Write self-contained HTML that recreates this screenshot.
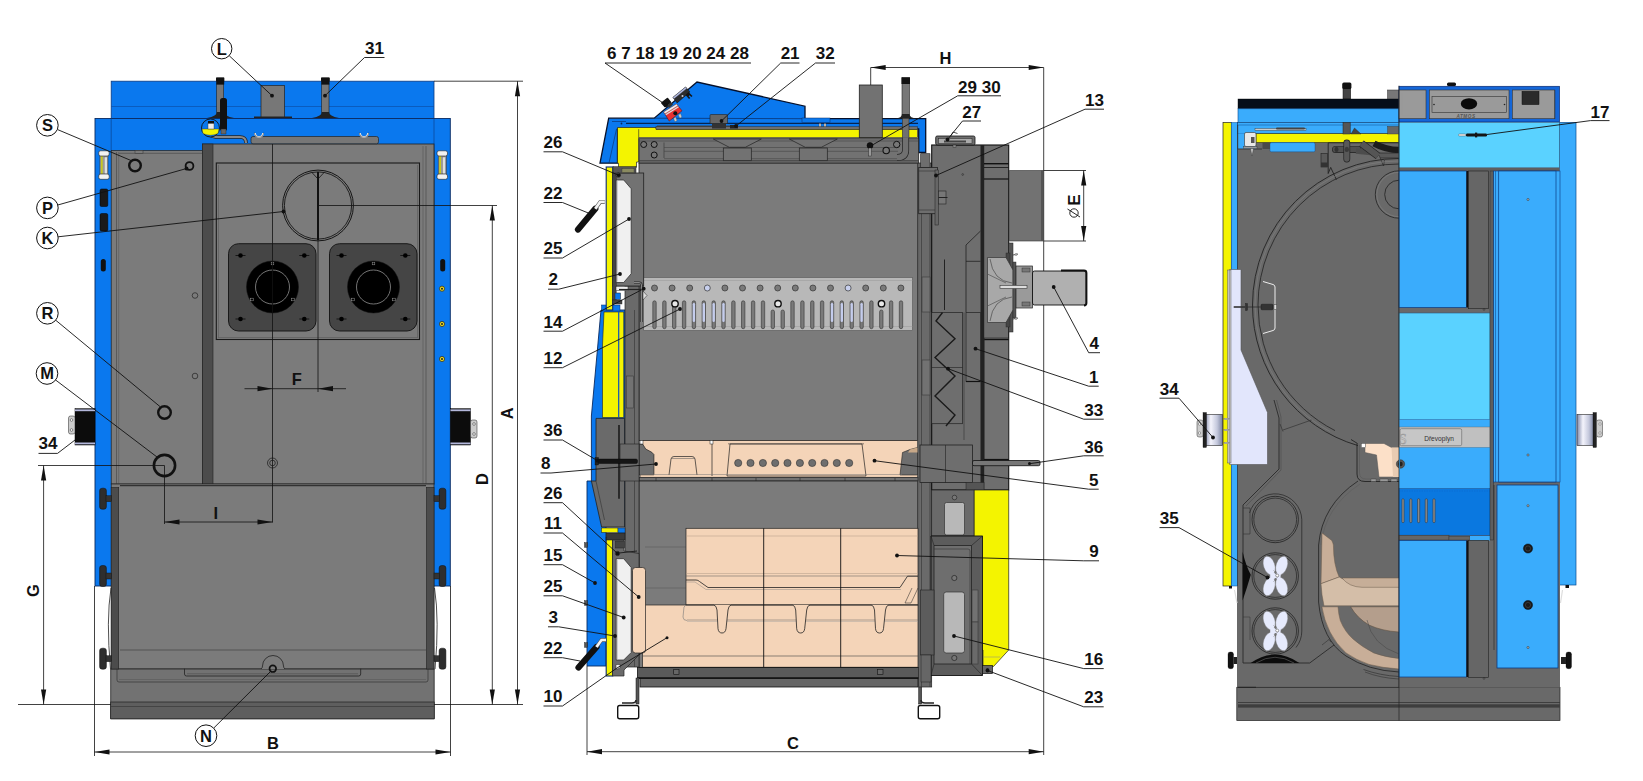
<!DOCTYPE html>
<html><head><meta charset="utf-8"><title>Boiler drawing</title>
<style>html,body{margin:0;padding:0;background:#fff;overflow:hidden}svg{display:block}</style>
</head><body>
<svg width="1643" height="781" viewBox="0 0 1643 781">
<rect x="0" y="0" width="1643" height="781" fill="#ffffff"/>
<g id="left-view">
<rect x="216.7" y="78" width="7.0" height="40" fill="#777" stroke="#111" stroke-width="0.6" rx="0" />
<rect x="216.2" y="78" width="8.0" height="6.5" fill="#111" stroke="none" stroke-width="0" rx="0" />
<rect x="321.7" y="78" width="7.3" height="40" fill="#777" stroke="#111" stroke-width="0.6" rx="0" />
<rect x="321.2" y="78" width="8.3" height="6.5" fill="#111" stroke="none" stroke-width="0" rx="0" />
<rect x="111.2" y="81.2" width="322.8" height="37.3" fill="#0a78ee" stroke="#0a3a80" stroke-width="0.8" rx="0" />
<line x1="111.2" y1="106.5" x2="434" y2="106.5" stroke="#0a4aa0" stroke-width="0.6" />
<rect x="216.7" y="84" width="7.0" height="34" fill="#777" stroke="#222" stroke-width="0.6" rx="0" />
<rect x="216.2" y="77.5" width="8.0" height="7.0" fill="#111" stroke="none" stroke-width="0" rx="0" />
<rect x="321.7" y="84" width="7.3" height="34" fill="#777" stroke="#222" stroke-width="0.6" rx="0" />
<rect x="321.2" y="77.5" width="8.3" height="7.0" fill="#111" stroke="none" stroke-width="0" rx="0" />
<path d="M312,118 Q322,116 322,112 L329,112 Q329,116 339,118 Z" fill="#222" stroke="none" stroke-width="0" />
<path d="M207,118 Q217,116 217,112 L224,112 Q224,116 234,118 Z" fill="#222" stroke="none" stroke-width="0" />
<rect x="261" y="85.5" width="23.5" height="32.5" fill="#777" stroke="#222" stroke-width="0.7" rx="0" />
<rect x="254" y="116.5" width="38" height="2.0" fill="#222" stroke="none" stroke-width="0" rx="0" />
<rect x="95" y="118.5" width="355.3" height="467.5" fill="#0a78ee" stroke="#0a2a60" stroke-width="0.9" rx="0" />
<line x1="111.2" y1="118.5" x2="111.2" y2="150" stroke="#0a3a80" stroke-width="0.6" />
<line x1="434" y1="118.5" x2="434" y2="150" stroke="#0a3a80" stroke-width="0.6" />
<rect x="111.2" y="150.5" width="322.8" height="333.5" fill="#7b7b7b" stroke="#222" stroke-width="0.7" rx="0" />
<line x1="118.7" y1="153.3" x2="202" y2="153.3" stroke="#444" stroke-width="0.6" />
<rect x="135" y="150.5" width="8" height="2.8" fill="#7b7b7b" stroke="#333" stroke-width="0.5" rx="0" />
<line x1="116.5" y1="152" x2="116.5" y2="484" stroke="#444" stroke-width="0.6" />
<line x1="118.7" y1="152" x2="118.7" y2="484" stroke="#555" stroke-width="0.5" />
<rect x="202.5" y="144" width="231.5" height="340" fill="#7b7b7b" stroke="#222" stroke-width="0.8" rx="0" />
<rect x="202.5" y="144" width="10.5" height="340" fill="#4c4c4c" stroke="#222" stroke-width="0.6" rx="0" />
<line x1="423" y1="146" x2="423" y2="484" stroke="#555" stroke-width="0.6" />
<line x1="426" y1="146" x2="426" y2="484" stroke="#444" stroke-width="0.6" />
<rect x="216.3" y="163" width="203.2" height="176.5" fill="none" stroke="#1a1a1a" stroke-width="1.1" rx="0" />
<line x1="218.5" y1="165" x2="218.5" y2="337.5" stroke="#555" stroke-width="0.5" />
<line x1="417.5" y1="165" x2="417.5" y2="337.5" stroke="#555" stroke-width="0.5" />
<line x1="218" y1="337.5" x2="418" y2="337.5" stroke="#555" stroke-width="0.5" />
<rect x="251" y="136.5" width="127.5" height="7.3" fill="#777" stroke="#222" stroke-width="0.7" rx="2" />
<path d="M255,133 a4,4 0 0 0 8,0" fill="none" stroke="#e8e8e8" stroke-width="1.8" />
<path d="M254.4,132.6 a4.6,4.6 0 0 0 9.2,0" fill="none" stroke="#333" stroke-width="0.5" />
<path d="M360,133 a4,4 0 0 0 8,0" fill="none" stroke="#e8e8e8" stroke-width="1.8" />
<path d="M359.4,132.6 a4.6,4.6 0 0 0 9.2,0" fill="none" stroke="#333" stroke-width="0.5" />
<path d="M209,134 Q213,137 218,137 L240,137 Q246,137 246,143" fill="none" stroke="#222" stroke-width="3.6" />
<path d="M209,134 Q213,137 218,137 L240,137 Q246,137 246,143" fill="none" stroke="#888" stroke-width="2.2" />
<circle cx="210.5" cy="128" r="9" fill="#0a78ee" stroke="#111" stroke-width="0.9"/>
<path d="M202,129 L219,129 L218,133.5 Q210.5,137 203,133.5 Z" fill="#f4f400" stroke="#333" stroke-width="0.4" />
<rect x="208" y="123" width="6" height="6" fill="#eee" stroke="#333" stroke-width="0.4" rx="0" />
<rect x="208" y="121" width="6" height="2.5" fill="#111" stroke="none" stroke-width="0" rx="0" />
<rect x="220" y="98" width="7" height="33" fill="#111" stroke="none" stroke-width="0" rx="2.5" />
<rect x="221" y="129" width="5" height="5" fill="#666" stroke="#222" stroke-width="0.4" rx="0" />
<circle cx="318" cy="205.5" r="35.4" fill="none" stroke="#151515" stroke-width="1.0"/>
<circle cx="318" cy="205.5" r="33.6" fill="none" stroke="#151515" stroke-width="0.9"/>
<line x1="318" y1="172" x2="318" y2="240" stroke="#111" stroke-width="2" />
<path d="M311,171.5 L318,179 L325,171.5" fill="none" stroke="#111" stroke-width="0.8" />
<rect x="228.5" y="243.7" width="87.5" height="87.3" fill="#454545" stroke="#111" stroke-width="0.9" rx="10" />
<circle cx="272.5" cy="287" r="26" fill="#000" stroke="#111" stroke-width="0.5"/>
<circle cx="272.5" cy="287" r="17" fill="none" stroke="#808080" stroke-width="0.9"/>
<line x1="235.5" y1="255.5" x2="245.5" y2="255.5" stroke="#111" stroke-width="0.9" />
<circle cx="240.5" cy="255.5" r="2.3" fill="#000" stroke="none" stroke-width="0"/>
<line x1="299.3" y1="255.5" x2="309.3" y2="255.5" stroke="#111" stroke-width="0.9" />
<circle cx="304.3" cy="255.5" r="2.3" fill="#000" stroke="none" stroke-width="0"/>
<line x1="235.5" y1="319" x2="245.5" y2="319" stroke="#111" stroke-width="0.9" />
<circle cx="240.5" cy="319" r="2.3" fill="#000" stroke="none" stroke-width="0"/>
<line x1="299.3" y1="319" x2="309.3" y2="319" stroke="#111" stroke-width="0.9" />
<circle cx="304.3" cy="319" r="2.3" fill="#000" stroke="none" stroke-width="0"/>
<rect x="271.2" y="262.2" width="2.6" height="2.6" fill="none" stroke="#999" stroke-width="0.5" rx="0" />
<rect x="250.7" y="298.2" width="2.6" height="2.6" fill="none" stroke="#999" stroke-width="0.5" rx="0" />
<rect x="291.7" y="298.2" width="2.6" height="2.6" fill="none" stroke="#999" stroke-width="0.5" rx="0" />
<rect x="329.5" y="243.7" width="87.5" height="87.3" fill="#454545" stroke="#111" stroke-width="0.9" rx="10" />
<circle cx="373.5" cy="287" r="26" fill="#000" stroke="#111" stroke-width="0.5"/>
<circle cx="373.5" cy="287" r="17" fill="none" stroke="#808080" stroke-width="0.9"/>
<line x1="336.5" y1="255.5" x2="346.5" y2="255.5" stroke="#111" stroke-width="0.9" />
<circle cx="341.5" cy="255.5" r="2.3" fill="#000" stroke="none" stroke-width="0"/>
<line x1="400.3" y1="255.5" x2="410.3" y2="255.5" stroke="#111" stroke-width="0.9" />
<circle cx="405.3" cy="255.5" r="2.3" fill="#000" stroke="none" stroke-width="0"/>
<line x1="336.5" y1="319" x2="346.5" y2="319" stroke="#111" stroke-width="0.9" />
<circle cx="341.5" cy="319" r="2.3" fill="#000" stroke="none" stroke-width="0"/>
<line x1="400.3" y1="319" x2="410.3" y2="319" stroke="#111" stroke-width="0.9" />
<circle cx="405.3" cy="319" r="2.3" fill="#000" stroke="none" stroke-width="0"/>
<rect x="372.2" y="262.2" width="2.6" height="2.6" fill="none" stroke="#999" stroke-width="0.5" rx="0" />
<rect x="351.7" y="298.2" width="2.6" height="2.6" fill="none" stroke="#999" stroke-width="0.5" rx="0" />
<rect x="392.7" y="298.2" width="2.6" height="2.6" fill="none" stroke="#999" stroke-width="0.5" rx="0" />
<circle cx="135" cy="165.5" r="5.8" fill="none" stroke="#111" stroke-width="2.4"/>
<circle cx="189.5" cy="166" r="3.9" fill="none" stroke="#111" stroke-width="1.8"/>
<circle cx="164.5" cy="412.5" r="6.3" fill="none" stroke="#111" stroke-width="2.4"/>
<circle cx="164.5" cy="465.5" r="10.6" fill="none" stroke="#111" stroke-width="2.6"/>
<circle cx="195" cy="295.5" r="2.8" fill="none" stroke="#222" stroke-width="0.7"/>
<circle cx="195" cy="376" r="2.8" fill="none" stroke="#222" stroke-width="0.7"/>
<circle cx="272.5" cy="463" r="5" fill="none" stroke="#222" stroke-width="0.8"/>
<circle cx="272.5" cy="463" r="2.8" fill="none" stroke="#222" stroke-width="0.8"/>
<rect x="111.2" y="484" width="322.8" height="185" fill="#7b7b7b" stroke="#222" stroke-width="0.7" rx="0" />
<line x1="120" y1="485.7" x2="426" y2="485.7" stroke="#222" stroke-width="1" />
<line x1="120" y1="650" x2="426" y2="650" stroke="#444" stroke-width="0.7" />
<polygon points="110.7,669 434.2,669 434.2,718.8 110.7,718.8" fill="#727272" stroke="#222" stroke-width="0.8" />
<rect x="110.7" y="702" width="323.5" height="16.8" fill="#5e5e5e" stroke="#222" stroke-width="0.7" rx="0" />
<line x1="110.7" y1="706.5" x2="434.2" y2="706.5" stroke="#3a3a3a" stroke-width="0.7" />
<path d="M117,669 L117,680 Q117,682 119,682 L426,682 Q428,682 428,680 L428,669" fill="none" stroke="#333" stroke-width="0.7" />
<line x1="119" y1="679.5" x2="426" y2="679.5" stroke="#555" stroke-width="0.5" />
<path d="M184.5,668.7 L184.5,674 Q184.5,676 186.5,676 L358.7,676 Q360.7,676 360.7,674 L360.7,668.7" fill="none" stroke="#222" stroke-width="0.8" />
<line x1="187" y1="673.8" x2="358" y2="673.8" stroke="#444" stroke-width="0.5" />
<path d="M261,669 Q262.5,668 262.5,666 A10.5,10.5 0 0 1 283.5,666 Q283.5,668 285,669" fill="#7b7b7b" stroke="#222" stroke-width="0.8" />
<circle cx="272.8" cy="668.7" r="3.3" fill="none" stroke="#111" stroke-width="1.7"/>
<rect x="111.2" y="487.5" width="7.5" height="181.5" fill="#4c4c4c" stroke="#222" stroke-width="0.6" rx="0" />
<rect x="426.5" y="487.5" width="7.5" height="181.5" fill="#4c4c4c" stroke="#222" stroke-width="0.6" rx="0" />
<path d="M111,588 Q106,620 110.5,669" fill="none" stroke="#222" stroke-width="0.8" />
<path d="M434.5,588 Q439.5,620 435,669" fill="none" stroke="#222" stroke-width="0.8" />
<rect x="99.6" y="488.2" width="6.8" height="21.0" fill="#2e2e2e" stroke="#111" stroke-width="0.5" rx="2.5" />
<rect x="106" y="495.7" width="5.5" height="6.0" fill="#333" stroke="#111" stroke-width="0.4" rx="0" />
<rect x="439.1" y="488.2" width="6.8" height="21.0" fill="#2e2e2e" stroke="#111" stroke-width="0.5" rx="2.5" />
<rect x="434.0" y="495.7" width="5.5" height="6.0" fill="#333" stroke="#111" stroke-width="0.4" rx="0" />
<rect x="99.6" y="565.5" width="6.8" height="21.0" fill="#2e2e2e" stroke="#111" stroke-width="0.5" rx="2.5" />
<rect x="106" y="573" width="5.5" height="6" fill="#333" stroke="#111" stroke-width="0.4" rx="0" />
<rect x="439.1" y="565.5" width="6.8" height="21.0" fill="#2e2e2e" stroke="#111" stroke-width="0.5" rx="2.5" />
<rect x="434.0" y="573" width="5.5" height="6" fill="#333" stroke="#111" stroke-width="0.4" rx="0" />
<rect x="99.6" y="648.2" width="6.8" height="21.0" fill="#2e2e2e" stroke="#111" stroke-width="0.5" rx="2.5" />
<rect x="106" y="655.7" width="5.5" height="6.0" fill="#333" stroke="#111" stroke-width="0.4" rx="0" />
<rect x="439.1" y="648.2" width="6.8" height="21.0" fill="#2e2e2e" stroke="#111" stroke-width="0.5" rx="2.5" />
<rect x="434.0" y="655.7" width="5.5" height="6.0" fill="#333" stroke="#111" stroke-width="0.4" rx="0" />
<rect x="99.9" y="154" width="8.1" height="22.5" fill="#9a9a9a" stroke="#333" stroke-width="0.5" rx="0" />
<rect x="100.9" y="156" width="1.8" height="19" fill="#c8c820" stroke="none" stroke-width="0" rx="0" />
<rect x="104.2" y="157" width="3.0" height="17" fill="#e0e0e0" stroke="#555" stroke-width="0.3" rx="0" />
<rect x="98.7" y="150.8" width="10.5" height="5.2" fill="#f2f2f2" stroke="#222" stroke-width="0.6" rx="2" />
<rect x="98.7" y="174" width="10.5" height="5.3" fill="#f2f2f2" stroke="#222" stroke-width="0.6" rx="2" />
<rect x="438.2" y="154" width="8.1" height="22.5" fill="#9a9a9a" stroke="#333" stroke-width="0.5" rx="0" />
<rect x="439.2" y="156" width="1.8" height="19" fill="#c8c820" stroke="none" stroke-width="0" rx="0" />
<rect x="442.5" y="157" width="3.0" height="17" fill="#e0e0e0" stroke="#555" stroke-width="0.3" rx="0" />
<rect x="437" y="150.8" width="10.5" height="5.2" fill="#f2f2f2" stroke="#222" stroke-width="0.6" rx="2" />
<rect x="437" y="174" width="10.5" height="5.3" fill="#f2f2f2" stroke="#222" stroke-width="0.6" rx="2" />
<rect x="100" y="189" width="7.8" height="17.5" fill="#1a1a1a" stroke="#000" stroke-width="0.5" rx="1.5" />
<rect x="100" y="213.5" width="7.8" height="17.5" fill="#1a1a1a" stroke="#000" stroke-width="0.5" rx="1.5" />
<rect x="100.8" y="259" width="5.0" height="12.5" fill="#111" stroke="none" stroke-width="0" rx="2.5" />
<rect x="440.2" y="259" width="5.0" height="12.5" fill="#111" stroke="none" stroke-width="0" rx="2.5" />
<circle cx="442" cy="288.7" r="2.6" fill="#e8d820" stroke="#222" stroke-width="0.7"/>
<circle cx="442" cy="288.7" r="1" fill="#222" stroke="none" stroke-width="0"/>
<circle cx="442" cy="324" r="2.6" fill="#e8d820" stroke="#222" stroke-width="0.7"/>
<circle cx="442" cy="324" r="1" fill="#222" stroke="none" stroke-width="0"/>
<circle cx="442" cy="359" r="2.6" fill="#e8d820" stroke="#222" stroke-width="0.7"/>
<circle cx="442" cy="359" r="1" fill="#222" stroke="none" stroke-width="0"/>
<circle cx="103" cy="262" r="0.1" fill="none" stroke="none" stroke-width="0"/>
<rect x="75" y="408.7" width="20" height="36.3" fill="#0c0c0c" stroke="#000" stroke-width="0.5" rx="0" />
<rect x="450.5" y="408.7" width="20.0" height="36.3" fill="#0c0c0c" stroke="#000" stroke-width="0.5" rx="0" />
<rect x="75" y="409.4" width="20" height="1.8" fill="#b4b8dc" stroke="none" stroke-width="0" rx="0" />
<rect x="75" y="442.5" width="20" height="1.8" fill="#b4b8dc" stroke="none" stroke-width="0" rx="0" />
<rect x="450.5" y="409.4" width="20.0" height="1.8" fill="#b4b8dc" stroke="none" stroke-width="0" rx="0" />
<rect x="450.5" y="442.5" width="20.0" height="1.8" fill="#b4b8dc" stroke="none" stroke-width="0" rx="0" />
<rect x="68.5" y="416" width="6.5" height="18" fill="#ccc" stroke="#222" stroke-width="0.5" rx="2" />
<rect x="470.5" y="420" width="6.5" height="18" fill="#ccc" stroke="#222" stroke-width="0.5" rx="2" />
<circle cx="71.5" cy="420" r="1.3" fill="#fff" stroke="#222" stroke-width="0.5"/>
<circle cx="71.5" cy="430" r="1.3" fill="#fff" stroke="#222" stroke-width="0.5"/>
<circle cx="474" cy="424" r="1.3" fill="#fff" stroke="#222" stroke-width="0.5"/>
<circle cx="474" cy="434" r="1.3" fill="#fff" stroke="#222" stroke-width="0.5"/>
<line x1="272.5" y1="144" x2="272.5" y2="522.5" stroke="#111" stroke-width="0.8" />
<line x1="318" y1="240" x2="318" y2="392" stroke="#111" stroke-width="0.8" />
<line x1="244.5" y1="388.7" x2="346" y2="388.7" stroke="#111" stroke-width="0.8" />
<polygon points="272.5,388.7 257.5,386.09999999999997 257.5,391.3" fill="#111" stroke="none" stroke-width="0" />
<polygon points="318,388.7 333,386.09999999999997 333,391.3" fill="#111" stroke="none" stroke-width="0" />
<text x="296.7" y="385" font-size="16.5" text-anchor="middle" font-family="Liberation Sans, Arial, sans-serif" font-weight="bold" fill="#111" >F</text>
<line x1="164.5" y1="465.5" x2="164.5" y2="524" stroke="#111" stroke-width="0.8" />
<line x1="164.5" y1="522" x2="272.5" y2="522" stroke="#111" stroke-width="0.8" />
<polygon points="164.5,522 179.5,519.4 179.5,524.6" fill="#111" stroke="none" stroke-width="0" />
<polygon points="272.5,522 257.5,519.4 257.5,524.6" fill="#111" stroke="none" stroke-width="0" />
<text x="215.7" y="519" font-size="16.5" text-anchor="middle" font-family="Liberation Sans, Arial, sans-serif" font-weight="bold" fill="#111" >I</text>
<line x1="38" y1="465.5" x2="164.5" y2="465.5" stroke="#111" stroke-width="0.8" />
<line x1="18" y1="704.5" x2="110.7" y2="704.5" stroke="#111" stroke-width="0.8" />
<line x1="43.6" y1="465.5" x2="43.6" y2="704.5" stroke="#111" stroke-width="0.8" />
<polygon points="43.6,465.5 41.0,480.5 46.2,480.5" fill="#111" stroke="none" stroke-width="0" />
<polygon points="43.6,704.5 41.0,689.5 46.2,689.5" fill="#111" stroke="none" stroke-width="0" />
<text transform="translate(39.3,590.5) rotate(-90)" font-size="16.5" text-anchor="middle" font-family="Liberation Sans, Arial, sans-serif" font-weight="bold" fill="#111">G</text>
<line x1="434" y1="81.2" x2="523" y2="81.2" stroke="#111" stroke-width="0.8" />
<line x1="318" y1="205.5" x2="497" y2="205.5" stroke="#111" stroke-width="0.8" />
<line x1="434.2" y1="704.5" x2="523" y2="704.5" stroke="#111" stroke-width="0.8" />
<line x1="517.5" y1="81.2" x2="517.5" y2="704.5" stroke="#111" stroke-width="0.8" />
<polygon points="517.5,81.2 514.9,96.2 520.1,96.2" fill="#111" stroke="none" stroke-width="0" />
<polygon points="517.5,704.5 514.9,689.5 520.1,689.5" fill="#111" stroke="none" stroke-width="0" />
<line x1="492.3" y1="205.5" x2="492.3" y2="704.5" stroke="#111" stroke-width="0.8" />
<polygon points="492.3,205.5 489.7,220.5 494.90000000000003,220.5" fill="#111" stroke="none" stroke-width="0" />
<polygon points="492.3,704.5 489.7,689.5 494.90000000000003,689.5" fill="#111" stroke="none" stroke-width="0" />
<text transform="translate(513.3,413.4) rotate(-90)" font-size="16.5" text-anchor="middle" font-family="Liberation Sans, Arial, sans-serif" font-weight="bold" fill="#111">A</text>
<text transform="translate(487.5,479) rotate(-90)" font-size="16.5" text-anchor="middle" font-family="Liberation Sans, Arial, sans-serif" font-weight="bold" fill="#111">D</text>
<line x1="94.5" y1="586" x2="94.5" y2="756" stroke="#111" stroke-width="0.8" />
<line x1="450.5" y1="586" x2="450.5" y2="756" stroke="#111" stroke-width="0.8" />
<line x1="94.5" y1="752" x2="450.5" y2="752" stroke="#111" stroke-width="0.8" />
<polygon points="94.5,752 109.5,749.4 109.5,754.6" fill="#111" stroke="none" stroke-width="0" />
<polygon points="450.5,752 435.5,749.4 435.5,754.6" fill="#111" stroke="none" stroke-width="0" />
<text x="273" y="748.6" font-size="16.5" text-anchor="middle" font-family="Liberation Sans, Arial, sans-serif" font-weight="bold" fill="#111" >B</text>
<line x1="229.2" y1="55.7" x2="272" y2="95.7" stroke="#111" stroke-width="0.9" />
<circle cx="272" cy="95.7" r="1.9" fill="#111" stroke="none" stroke-width="0"/>
<circle cx="221.7" cy="48.7" r="10.2" fill="#fff" stroke="#111" stroke-width="1"/>
<text x="221.7" y="54.6" font-size="16.5" text-anchor="middle" font-family="Liberation Sans, Arial, sans-serif" font-weight="bold" fill="#111" >L</text>
<line x1="57.4" y1="129.5" x2="131" y2="160.5" stroke="#111" stroke-width="0.9" />
<circle cx="47.4" cy="125.3" r="10.8" fill="#fff" stroke="#111" stroke-width="1"/>
<text x="47.4" y="131.2" font-size="16.5" text-anchor="middle" font-family="Liberation Sans, Arial, sans-serif" font-weight="bold" fill="#111" >S</text>
<line x1="57.8" y1="205.0" x2="186.5" y2="168.5" stroke="#111" stroke-width="0.9" />
<circle cx="186.5" cy="168.5" r="1.9" fill="#111" stroke="none" stroke-width="0"/>
<circle cx="47.4" cy="207.9" r="10.8" fill="#fff" stroke="#111" stroke-width="1"/>
<text x="47.4" y="213.8" font-size="16.5" text-anchor="middle" font-family="Liberation Sans, Arial, sans-serif" font-weight="bold" fill="#111" >P</text>
<line x1="58.1" y1="236.8" x2="283.5" y2="211.5" stroke="#111" stroke-width="0.9" />
<circle cx="283.5" cy="211.5" r="1.9" fill="#111" stroke="none" stroke-width="0"/>
<circle cx="47.4" cy="238" r="10.8" fill="#fff" stroke="#111" stroke-width="1"/>
<text x="47.4" y="243.9" font-size="16.5" text-anchor="middle" font-family="Liberation Sans, Arial, sans-serif" font-weight="bold" fill="#111" >K</text>
<line x1="55.7" y1="320.2" x2="160.5" y2="407" stroke="#111" stroke-width="0.9" />
<circle cx="47.4" cy="313.3" r="10.8" fill="#fff" stroke="#111" stroke-width="1"/>
<text x="47.4" y="319.2" font-size="16.5" text-anchor="middle" font-family="Liberation Sans, Arial, sans-serif" font-weight="bold" fill="#111" >R</text>
<line x1="55.6" y1="380.0" x2="157" y2="457" stroke="#111" stroke-width="0.9" />
<circle cx="47" cy="373.5" r="10.8" fill="#fff" stroke="#111" stroke-width="1"/>
<text x="47" y="379.4" font-size="16.5" text-anchor="middle" font-family="Liberation Sans, Arial, sans-serif" font-weight="bold" fill="#111" >M</text>
<line x1="213.7" y1="728.1" x2="270.5" y2="671.5" stroke="#111" stroke-width="0.9" />
<circle cx="206" cy="735.7" r="10.8" fill="#fff" stroke="#111" stroke-width="1"/>
<text x="206" y="741.6" font-size="16.5" text-anchor="middle" font-family="Liberation Sans, Arial, sans-serif" font-weight="bold" fill="#111" >N</text>
<text x="374.5" y="53.8" font-size="17" text-anchor="middle" font-family="Liberation Sans, Arial, sans-serif" font-weight="bold" fill="#111" >31</text>
<line x1="364.5" y1="57.5" x2="384.5" y2="57.5" stroke="#111" stroke-width="0.9" />
<line x1="364.5" y1="57.5" x2="325" y2="95.7" stroke="#111" stroke-width="0.9" />
<circle cx="325" cy="95.7" r="1.9" fill="#111" stroke="none" stroke-width="0"/>
<text x="48.0" y="449.3" font-size="17" text-anchor="middle" font-family="Liberation Sans, Arial, sans-serif" font-weight="bold" fill="#111" >34</text>
<line x1="38.5" y1="453.4" x2="57.5" y2="453.4" stroke="#111" stroke-width="0.9" />
<line x1="57.5" y1="453.4" x2="75" y2="440" stroke="#111" stroke-width="0.9" />
</g>
<g id="mid-view">
<line x1="1043.7" y1="67.5" x2="1043.7" y2="755" stroke="#111" stroke-width="0.8" />
<rect x="902" y="77.5" width="7.5" height="50.5" fill="#777" stroke="#222" stroke-width="0.6" rx="0" />
<rect x="901.5" y="77.5" width="8.5" height="6.5" fill="#111" stroke="none" stroke-width="0" rx="0" />
<polygon points="608.7,118.2 654.2,118.2 697,82 805,106.2 805,118.7 925.7,118.7 925.7,152.5 918.7,152.5 918.7,129 617.5,129 617.5,163.2 600,163.2" fill="#0a78ee" stroke="#06102a" stroke-width="1.3" />
<line x1="654.2" y1="118.2" x2="805" y2="118.7" stroke="#0a2a60" stroke-width="0.7" />
<line x1="626" y1="123.3" x2="918" y2="123.3" stroke="#06102a" stroke-width="1.0" />
<path d="M612,121.5 L626,121.5" fill="none" stroke="#0a2a60" stroke-width="0.6" />
<line x1="616.5" y1="129" x2="609" y2="163" stroke="#0a2a60" stroke-width="0.6" />
<circle cx="621.5" cy="123.5" r="0.9" fill="#0a2a60" stroke="none" stroke-width="0"/>
<rect x="802" y="118" width="28" height="4.5" fill="#0a78ee" stroke="#0a2a60" stroke-width="0.5" rx="0" />
<rect x="657" y="125.5" width="78" height="2.7" fill="#444" stroke="none" stroke-width="0" rx="0" />
<rect x="819" y="123.5" width="2" height="4.5" fill="#ccc" stroke="#333" stroke-width="0.3" rx="0" />
<rect x="824" y="123.5" width="2" height="4.5" fill="#ccc" stroke="#333" stroke-width="0.3" rx="0" />
<polygon points="617.5,127.5 656,127.5 656,129.2 917.5,129.2 917.5,137.6 638.7,137.6 638.7,162 636.5,162 636.5,167.3 618.5,167.3 618.5,163.2 617.5,163.2" fill="#f4f400" stroke="#222" stroke-width="0.7" />
<line x1="638.7" y1="129.2" x2="638.7" y2="137.6" stroke="#222" stroke-width="0.6" />
<rect x="656" y="126.6" width="261.5" height="2.6" fill="#6e6e6e" stroke="#222" stroke-width="0.4" rx="0" />
<polygon points="672.9,97.4 685.6,87 689.9,91.9 677.1,102.9" fill="#2c2c2c" stroke="#111" stroke-width="0.5" />
<polygon points="672.9,97.4 685.6,87 686.8,88.4 674.1,98.8" fill="#b4bce4" stroke="#333" stroke-width="0.3" />
<circle cx="682.5" cy="96" r="1" fill="#ccd" stroke="none" stroke-width="0"/>
<polygon points="688.5,92 692.5,96 691.3,97 689.6,95.3 688.6,96.2 690.3,98 689,99 685.5,95" fill="#151515" stroke="none" stroke-width="0" />
<polygon points="661.9,102.9 667.4,98.6 670.4,102.3 665,106.5" fill="#141414" stroke="#141414" stroke-width="1.6" stroke-linejoin="round"/>
<polygon points="667,105.5 671,102.3 673,104.6 669,108" fill="#333" stroke="none" stroke-width="0" />
<polygon points="663.7,112 676.5,104 682,110.8 669.2,121.1" fill="#e83030" stroke="#501010" stroke-width="0.5" />
<polygon points="663.7,112 676.5,104 677.8,105.7 665,113.7" fill="#eee" stroke="#555" stroke-width="0.3" />
<polygon points="665.4,114.3 678.2,106.3 678.9,107.2 666.1,115.2" fill="#ddd" stroke="none" stroke-width="0" />
<circle cx="675.3" cy="113.2" r="2" fill="#111" stroke="none" stroke-width="0"/>
<polygon points="673.5,118.5 675.7,117 677,120.5 675,121.8" fill="#ccc" stroke="#444" stroke-width="0.3" />
<polygon points="678.3,115 680.5,113.5 681.8,117 679.8,118.3" fill="#ccc" stroke="#444" stroke-width="0.3" />
<rect x="710" y="114.5" width="17.5" height="9.0" fill="#666" stroke="#222" stroke-width="0.6" rx="1" />
<rect x="712" y="123.5" width="14" height="5.0" fill="#333" stroke="none" stroke-width="0" rx="0" />
<rect x="730" y="125" width="8" height="3.5" fill="#222" stroke="none" stroke-width="0" rx="0" />
<rect x="859.3" y="85" width="23.0" height="52.6" fill="#727272" stroke="#222" stroke-width="0.8" rx="0" />
<rect x="902.3" y="118" width="6.7" height="20" fill="#707070" stroke="#222" stroke-width="0.5" rx="0" />
<path d="M895,118.5 Q902,118 902,114 L909.5,114 Q909.5,118 917,118.5 Z" fill="#222" stroke="none" stroke-width="0" />
<rect x="639" y="138.7" width="279.7" height="24.5" fill="#727272" stroke="#222" stroke-width="0.8" rx="0" />
<line x1="639" y1="141" x2="918" y2="141" stroke="#444" stroke-width="0.6" />
<circle cx="643.7" cy="144.5" r="3" fill="#777" stroke="#111" stroke-width="1"/>
<circle cx="654.2" cy="144.5" r="3" fill="#777" stroke="#111" stroke-width="1"/>
<circle cx="654.2" cy="155" r="3" fill="#777" stroke="#111" stroke-width="1"/>
<line x1="664" y1="142.5" x2="664" y2="158" stroke="#333" stroke-width="0.6" />
<line x1="664" y1="147.5" x2="898" y2="147.5" stroke="#444" stroke-width="0.6" />
<line x1="664" y1="151.3" x2="898" y2="151.3" stroke="#444" stroke-width="0.6" />
<line x1="664" y1="158.7" x2="898" y2="158.7" stroke="#444" stroke-width="0.6" />
<polygon points="713.3,139 729.3,147.3 745.3,147.3 761.3,139" fill="#727272" stroke="#222" stroke-width="0.7" />
<rect x="723.3" y="148" width="28.0" height="12.7" fill="#727272" stroke="#222" stroke-width="0.7" rx="0" />
<polygon points="789.3,139 805.3,147.3 821.3,147.3 837.3,139" fill="#727272" stroke="#222" stroke-width="0.7" />
<rect x="799.3" y="148" width="28.0" height="12.7" fill="#727272" stroke="#222" stroke-width="0.7" rx="0" />
<circle cx="870" cy="145.5" r="3" fill="#111" stroke="#000" stroke-width="0.5"/>
<rect x="868.7" y="148" width="2.6" height="8" fill="#999" stroke="#222" stroke-width="0.4" rx="0" />
<circle cx="886.2" cy="150.5" r="3.2" fill="#777" stroke="#111" stroke-width="1.1"/>
<circle cx="896.7" cy="144.5" r="3.2" fill="#777" stroke="#111" stroke-width="1.0"/>
<path d="M905.6,138 L905.6,150 Q905.6,157.5 897,157.5" fill="none" stroke="#222" stroke-width="7"/>
<path d="M905.6,137.5 L905.6,150 Q905.6,157.5 897,157.5" fill="none" stroke="#707070" stroke-width="5.6"/>
<line x1="639" y1="160.8" x2="918" y2="160.8" stroke="#333" stroke-width="0.8" />
<rect x="639" y="163.2" width="278.5" height="277.3" fill="#7b7b7b" stroke="#222" stroke-width="0.8" rx="0" />
<rect x="643.7" y="277.5" width="268.8" height="53.0" fill="#b8b8b8" stroke="#555" stroke-width="0.6" rx="0" />
<line x1="643.7" y1="280.5" x2="912.5" y2="280.5" stroke="#999" stroke-width="0.5" />
<line x1="643.7" y1="326.5" x2="912.5" y2="326.5" stroke="#999" stroke-width="0.5" />
<circle cx="654.5" cy="288" r="3" fill="#7a7a7a" stroke="#333" stroke-width="0.7"/>
<circle cx="672.1" cy="288" r="3" fill="#7a7a7a" stroke="#333" stroke-width="0.7"/>
<circle cx="689.7" cy="288" r="3" fill="#7a7a7a" stroke="#333" stroke-width="0.7"/>
<circle cx="707.3" cy="288" r="3" fill="#c8d0ee" stroke="#333" stroke-width="0.7"/>
<circle cx="724.9" cy="288" r="3" fill="#7a7a7a" stroke="#333" stroke-width="0.7"/>
<circle cx="742.5" cy="288" r="3" fill="#7a7a7a" stroke="#333" stroke-width="0.7"/>
<circle cx="760.1" cy="288" r="3" fill="#7a7a7a" stroke="#333" stroke-width="0.7"/>
<circle cx="777.7" cy="288" r="3" fill="#7a7a7a" stroke="#333" stroke-width="0.7"/>
<circle cx="795.3" cy="288" r="3" fill="#7a7a7a" stroke="#333" stroke-width="0.7"/>
<circle cx="812.9" cy="288" r="3" fill="#7a7a7a" stroke="#333" stroke-width="0.7"/>
<circle cx="830.5" cy="288" r="3" fill="#7a7a7a" stroke="#333" stroke-width="0.7"/>
<circle cx="848.1" cy="288" r="3" fill="#c8d0ee" stroke="#333" stroke-width="0.7"/>
<circle cx="865.7" cy="288" r="3" fill="#7a7a7a" stroke="#333" stroke-width="0.7"/>
<circle cx="883.3" cy="288" r="3" fill="#7a7a7a" stroke="#333" stroke-width="0.7"/>
<circle cx="900.9" cy="288" r="3" fill="#7a7a7a" stroke="#333" stroke-width="0.7"/>
<rect x="652.8" y="300.8" width="3.4" height="27.9" fill="#7a7a7a" stroke="#333" stroke-width="0.6" rx="1.7" />
<rect x="662.7" y="300.8" width="3.4" height="27.9" fill="#7a7a7a" stroke="#333" stroke-width="0.6" rx="1.7" />
<rect x="672.5" y="300.8" width="3.4" height="27.9" fill="#7a7a7a" stroke="#333" stroke-width="0.6" rx="1.7" />
<rect x="682.4" y="300.8" width="3.4" height="27.9" fill="#7a7a7a" stroke="#333" stroke-width="0.6" rx="1.7" />
<rect x="692.2" y="300.8" width="3.4" height="27.9" fill="#7a7a7a" stroke="#333" stroke-width="0.6" rx="1.7" />
<rect x="702.1" y="300.8" width="3.4" height="27.9" fill="#7a7a7a" stroke="#333" stroke-width="0.6" rx="1.7" />
<rect x="712.0" y="300.8" width="3.4" height="27.9" fill="#7a7a7a" stroke="#333" stroke-width="0.6" rx="1.7" />
<rect x="721.8" y="300.8" width="3.4" height="27.9" fill="#7a7a7a" stroke="#333" stroke-width="0.6" rx="1.7" />
<rect x="731.7" y="300.8" width="3.4" height="27.9" fill="#7a7a7a" stroke="#333" stroke-width="0.6" rx="1.7" />
<rect x="741.5" y="300.8" width="3.4" height="27.9" fill="#7a7a7a" stroke="#333" stroke-width="0.6" rx="1.7" />
<rect x="751.4" y="300.8" width="3.4" height="27.9" fill="#7a7a7a" stroke="#333" stroke-width="0.6" rx="1.7" />
<rect x="761.3" y="300.8" width="3.4" height="27.9" fill="#7a7a7a" stroke="#333" stroke-width="0.6" rx="1.7" />
<rect x="771.1" y="310" width="3.4" height="18.7" fill="#7a7a7a" stroke="#333" stroke-width="0.6" rx="1.7" />
<rect x="781.0" y="310" width="3.4" height="18.7" fill="#7a7a7a" stroke="#333" stroke-width="0.6" rx="1.7" />
<rect x="790.8" y="300.8" width="3.4" height="27.9" fill="#7a7a7a" stroke="#333" stroke-width="0.6" rx="1.7" />
<rect x="800.7" y="300.8" width="3.4" height="27.9" fill="#7a7a7a" stroke="#333" stroke-width="0.6" rx="1.7" />
<rect x="810.6" y="300.8" width="3.4" height="27.9" fill="#7a7a7a" stroke="#333" stroke-width="0.6" rx="1.7" />
<rect x="820.4" y="300.8" width="3.4" height="27.9" fill="#7a7a7a" stroke="#333" stroke-width="0.6" rx="1.7" />
<rect x="830.3" y="300.8" width="3.4" height="27.9" fill="#7a7a7a" stroke="#333" stroke-width="0.6" rx="1.7" />
<rect x="840.1" y="300.8" width="3.4" height="27.9" fill="#7a7a7a" stroke="#333" stroke-width="0.6" rx="1.7" />
<rect x="850.0" y="300.8" width="3.4" height="27.9" fill="#7a7a7a" stroke="#333" stroke-width="0.6" rx="1.7" />
<rect x="859.9" y="300.8" width="3.4" height="27.9" fill="#7a7a7a" stroke="#333" stroke-width="0.6" rx="1.7" />
<rect x="869.7" y="300.8" width="3.4" height="27.9" fill="#7a7a7a" stroke="#333" stroke-width="0.6" rx="1.7" />
<rect x="879.6" y="310" width="3.4" height="18.7" fill="#7a7a7a" stroke="#333" stroke-width="0.6" rx="1.7" />
<rect x="889.4" y="300.8" width="3.4" height="27.9" fill="#7a7a7a" stroke="#333" stroke-width="0.6" rx="1.7" />
<rect x="899.3" y="300.8" width="3.4" height="27.9" fill="#7a7a7a" stroke="#333" stroke-width="0.6" rx="1.7" />
<circle cx="675" cy="303.7" r="3.2" fill="#e8e8e8" stroke="#111" stroke-width="1.4"/>
<circle cx="778" cy="303.7" r="3.2" fill="#e8e8e8" stroke="#111" stroke-width="1.4"/>
<circle cx="881.5" cy="303.7" r="3.2" fill="#e8e8e8" stroke="#111" stroke-width="1.4"/>
<rect x="692.7" y="303" width="2.4" height="19" fill="#c4ccec" stroke="none" stroke-width="0" rx="1.2" />
<rect x="702.6" y="303" width="2.4" height="19" fill="#c4ccec" stroke="none" stroke-width="0" rx="1.2" />
<rect x="712.5" y="303" width="2.4" height="19" fill="#c4ccec" stroke="none" stroke-width="0" rx="1.2" />
<rect x="722.3" y="303" width="2.4" height="19" fill="#c4ccec" stroke="none" stroke-width="0" rx="1.2" />
<rect x="830.8" y="303" width="2.4" height="19" fill="#c4ccec" stroke="none" stroke-width="0" rx="1.2" />
<rect x="840.6" y="303" width="2.4" height="19" fill="#c4ccec" stroke="none" stroke-width="0" rx="1.2" />
<rect x="850.5" y="303" width="2.4" height="19" fill="#c4ccec" stroke="none" stroke-width="0" rx="1.2" />
<rect x="860.4" y="303" width="2.4" height="19" fill="#c4ccec" stroke="none" stroke-width="0" rx="1.2" />
<rect x="640" y="440.5" width="277.5" height="37.0" fill="#f4d4b8" stroke="#222" stroke-width="0.7" rx="0" />
<polygon points="639,444 642.6,444 645.7,449 651.8,452.3 653.9,454.5 653.9,474.8 639,474.8" fill="#6e6e6e" stroke="#222" stroke-width="0.7" />
<rect x="640" y="440.5" width="3" height="3.5" fill="#fff" stroke="#222" stroke-width="0.5" rx="0" />
<rect x="710" y="440.5" width="3" height="3.5" fill="#fff" stroke="#222" stroke-width="0.5" rx="0" />
<line x1="712" y1="444" x2="712" y2="476" stroke="#222" stroke-width="0.7" />
<polygon points="730,444 862,444 866,476 727,476" fill="#f4d4b8" stroke="#222" stroke-width="0.7" />
<line x1="728" y1="443.8" x2="864" y2="443.8" stroke="#222" stroke-width="0.5" />
<path d="M669,475 L671,459 Q671.5,456.5 674,456.5 L692,456.5 Q694.5,456.5 695,459 L697,475" fill="none" stroke="#222" stroke-width="0.7" />
<line x1="671" y1="458.5" x2="695" y2="458.5" stroke="#555" stroke-width="0.5" />
<circle cx="738.2" cy="463" r="3.6" fill="#6e6e6e" stroke="#333" stroke-width="0.6"/>
<circle cx="750.5" cy="463" r="3.6" fill="#6e6e6e" stroke="#333" stroke-width="0.6"/>
<circle cx="762.9" cy="463" r="3.6" fill="#6e6e6e" stroke="#333" stroke-width="0.6"/>
<circle cx="775.2" cy="463" r="3.6" fill="#6e6e6e" stroke="#333" stroke-width="0.6"/>
<circle cx="787.5" cy="463" r="3.6" fill="#6e6e6e" stroke="#333" stroke-width="0.6"/>
<circle cx="799.9" cy="463" r="3.6" fill="#6e6e6e" stroke="#333" stroke-width="0.6"/>
<circle cx="812.2" cy="463" r="3.6" fill="#6e6e6e" stroke="#333" stroke-width="0.6"/>
<circle cx="824.5" cy="463" r="3.6" fill="#6e6e6e" stroke="#333" stroke-width="0.6"/>
<circle cx="836.8" cy="463" r="3.6" fill="#6e6e6e" stroke="#333" stroke-width="0.6"/>
<circle cx="849.2" cy="463" r="3.6" fill="#6e6e6e" stroke="#333" stroke-width="0.6"/>
<polygon points="917.5,447.5 910,449.5 902.5,452.5 900,475 917.5,475" fill="#6e6e6e" stroke="#222" stroke-width="0.6" />
<polygon points="917.5,447.5 910,449.5 908,452.5 917.5,452.5" fill="#c8a888" stroke="none" stroke-width="0" />
<line x1="640" y1="474.5" x2="902" y2="474.5" stroke="#777" stroke-width="0.5" />
<rect x="639" y="477.3" width="279" height="3.7" fill="#727272" stroke="#222" stroke-width="0.7" rx="0" />
<line x1="656" y1="478" x2="656" y2="481" stroke="#222" stroke-width="0.6" />
<line x1="712" y1="478" x2="712" y2="481" stroke="#222" stroke-width="0.6" />
<line x1="756" y1="478" x2="756" y2="481" stroke="#222" stroke-width="0.6" />
<line x1="800" y1="478" x2="800" y2="481" stroke="#222" stroke-width="0.6" />
<line x1="845" y1="478" x2="845" y2="481" stroke="#222" stroke-width="0.6" />
<line x1="895" y1="478" x2="895" y2="481" stroke="#222" stroke-width="0.6" />
<rect x="639" y="481" width="278.5" height="186.5" fill="#7b7b7b" stroke="#222" stroke-width="0.8" rx="0" />
<line x1="645" y1="547" x2="686" y2="547" stroke="#555" stroke-width="0.5" />
<line x1="645" y1="588" x2="686" y2="588" stroke="#555" stroke-width="0.5" />
<rect x="686" y="528.3" width="232" height="76.7" fill="#f4d4b8" stroke="#222" stroke-width="0.7" rx="0" />
<polygon points="642.5,605 686,605 686,605 918,605 918,667.3 642.5,667.3" fill="#f4d4b8" stroke="#222" stroke-width="0.7" />
<line x1="686" y1="536" x2="918" y2="536" stroke="#b09a86" stroke-width="0.5" />
<line x1="686" y1="573.5" x2="918" y2="573.5" stroke="#b09a86" stroke-width="0.5" />
<line x1="686" y1="576" x2="918" y2="576" stroke="#555" stroke-width="0.5" />
<path d="M686,580 L696,580 Q698,580 699.5,581.5 L708,587.5 L900,587.5 L907.5,576.2 L918,576.2" fill="none" stroke="#222" stroke-width="0.8" />
<path d="M686,582 L695,582 L706,589.5 L901,589.5" fill="none" stroke="#777" stroke-width="0.4" />
<path d="M918,588 L911,603 L905,603 L912,588" fill="none" stroke="#222" stroke-width="0.5" />
<path d="M686,605 L684,607 L683,617 Q683,620.5 687,620.5" fill="none" stroke="#777" stroke-width="0.6" />
<line x1="687" y1="620" x2="918" y2="620" stroke="#666" stroke-width="0.5" />
<line x1="687" y1="621.5" x2="918" y2="621.5" stroke="#999" stroke-width="0.4" />
<path d="M713.7,605 Q716.5,605.5 717,610 L718,628.7 Q718.6,633 722,633 Q725.4,633 726,628.7 L728,610 Q728.5,605.5 731.3,605" fill="#f4d4b8" stroke="#222" stroke-width="0.8" />
<path d="M792.4000000000001,605 Q795.2,605.5 795.7,610 L796.7,628.7 Q797.3000000000001,633 800.7,633 Q804.1,633 804.7,628.7 L806.7,610 Q807.2,605.5 810.0,605" fill="#f4d4b8" stroke="#222" stroke-width="0.8" />
<path d="M871.2,605 Q874.0,605.5 874.5,610 L875.5,628.7 Q876.1,633 879.5,633 Q882.9,633 883.5,628.7 L885.5,610 Q886.0,605.5 888.8,605" fill="#f4d4b8" stroke="#222" stroke-width="0.8" />
<line x1="686" y1="605" x2="713.7" y2="605" stroke="#222" stroke-width="0.7" />
<line x1="731.3" y1="605" x2="792.4" y2="605" stroke="#222" stroke-width="0.7" />
<line x1="810" y1="605" x2="871.2" y2="605" stroke="#222" stroke-width="0.7" />
<line x1="888.8" y1="605" x2="918" y2="605" stroke="#222" stroke-width="0.7" />
<line x1="642.5" y1="656" x2="918" y2="656" stroke="#444" stroke-width="0.6" />
<line x1="763.7" y1="528.3" x2="763.7" y2="667.3" stroke="#111" stroke-width="0.9" />
<line x1="840.7" y1="528.3" x2="840.7" y2="667.3" stroke="#111" stroke-width="0.9" />
<rect x="637.5" y="667.5" width="282.5" height="11.0" fill="#5a5a5a" stroke="#111" stroke-width="0.8" rx="0" />
<rect x="640" y="678.5" width="278" height="8.5" fill="#666" stroke="#111" stroke-width="0.8" rx="0" />
<line x1="637.5" y1="677.8" x2="920" y2="677.8" stroke="#111" stroke-width="1.2" />
<rect x="673.7" y="669.5" width="5.3" height="5.0" fill="#666" stroke="#111" stroke-width="0.6" rx="0" />
<rect x="877.5" y="669.5" width="5.5" height="5.0" fill="#666" stroke="#111" stroke-width="0.6" rx="0" />
<rect x="636" y="678" width="3" height="26" fill="#555" stroke="#111" stroke-width="0.5" rx="0" />
<rect x="918.7" y="678" width="3.0" height="26" fill="#555" stroke="#111" stroke-width="0.5" rx="0" />
<path d="M636,700 Q636,703 632,703 L622,703" fill="none" stroke="#222" stroke-width="1.6" />
<path d="M921,700 Q921,703 925,703 L934,703" fill="none" stroke="#222" stroke-width="1.6" />
<rect x="617.7" y="705.5" width="21.0" height="13.2" fill="#fff" stroke="#111" stroke-width="1.4" rx="2" />
<rect x="918.3" y="705.5" width="21.4" height="13.2" fill="#fff" stroke="#111" stroke-width="1.4" rx="2" />
<polygon points="601,310 591.4,416 591.4,481 587,481 587,666 606,666 606,527 625,527 625,310" fill="#0a78ee" stroke="#0a2a60" stroke-width="0.9" />
<polygon points="604,312 623.7,312 623.7,417.5 602.5,417.5 602.5,345" fill="#f4f400" stroke="#222" stroke-width="0.6" />
<line x1="618.7" y1="312" x2="618.7" y2="417.5" stroke="#0a50c0" stroke-width="1.2" />
<rect x="601.5" y="305" width="18.5" height="6" fill="#0a78ee" stroke="#0a2a60" stroke-width="0.5" rx="0" />
<rect x="625" y="286" width="14" height="381" fill="#6a6a6a" stroke="#222" stroke-width="0.7" rx="0" />
<line x1="634.5" y1="310" x2="634.5" y2="667" stroke="#333" stroke-width="0.6" />
<rect x="626.5" y="376" width="7.0" height="32" fill="#727272" stroke="#333" stroke-width="0.5" rx="0" />
<polygon points="596,418.4 624.5,418.4 624.5,527 601.6,527 591.4,481 596,481" fill="#6a6a6a" stroke="#222" stroke-width="0.8" />
<line x1="596" y1="481" x2="604.5" y2="520" stroke="#333" stroke-width="0.6" />
<line x1="619" y1="425" x2="619" y2="498.7" stroke="#111" stroke-width="1.4" />
<rect x="620" y="444" width="19" height="37" fill="#6a6a6a" stroke="#222" stroke-width="0.6" rx="0" />
<rect x="595.5" y="459" width="42.0" height="4.5" fill="#151515" stroke="#000" stroke-width="0.4" rx="1.5" />
<rect x="595" y="457.5" width="3.5" height="7.5" fill="#222" stroke="#000" stroke-width="0.3" rx="0" />
<rect x="601.6" y="528" width="16.4" height="4.3" fill="#f4f400" stroke="#222" stroke-width="0.5" rx="0" />
<rect x="618" y="528" width="7" height="5" fill="#0a78ee" stroke="#222" stroke-width="0.4" rx="0" />
<rect x="584.5" y="542.7" width="3.0" height="4.6" fill="#555" stroke="#111" stroke-width="0.4" rx="0" />
<rect x="584.5" y="600.7" width="3.0" height="4.6" fill="#555" stroke="#111" stroke-width="0.4" rx="0" />
<rect x="584.5" y="642.7" width="3.0" height="4.6" fill="#555" stroke="#111" stroke-width="0.4" rx="0" />
<rect x="606.2" y="167" width="6.5" height="143" fill="#f4f400" stroke="#0c2a70" stroke-width="1.1" rx="0" />
<rect x="612.5" y="173" width="31.2" height="113" fill="#727272" stroke="#222" stroke-width="0.8" rx="0" />
<rect x="612.5" y="173" width="3.7" height="127" fill="#444" stroke="#222" stroke-width="0.4" rx="0" />
<polygon points="616.2,180 623.7,180 631.2,188.7 631.2,273.7 623.7,282.5 616.2,282.5" fill="#f0f0f0" stroke="#222" stroke-width="0.7" />
<line x1="617.3" y1="181" x2="617.3" y2="281.5" stroke="#999" stroke-width="0.5" />
<rect x="613" y="166.7" width="23" height="6.3" fill="#555" stroke="#222" stroke-width="0.5" rx="0" />
<rect x="622" y="168.5" width="12" height="4.0" fill="#8a8a60" stroke="#222" stroke-width="0.3" rx="0" />
<circle cx="618.3" cy="175.2" r="2.2" fill="#ddd" stroke="#111" stroke-width="0.8"/>
<rect x="616" y="286.5" width="12" height="4.0" fill="#eee" stroke="#222" stroke-width="0.5" rx="0" />
<path d="M634,282.5 L639,282.5 Q641.5,282.5 641.5,285 L641.5,322" fill="none" stroke="#222" stroke-width="2.2" />
<path d="M634,282.5 L639,282.5 Q641.5,282.5 641.5,285 L641.5,322" fill="none" stroke="#888" stroke-width="1" />
<line x1="619" y1="289.5" x2="641" y2="289.5" stroke="#222" stroke-width="1.2" />
<polygon points="643,291 647,295.5 643,300" fill="#ddd" stroke="#222" stroke-width="0.5" />
<rect x="615" y="293" width="5.5" height="6.5" fill="#0a78ee" stroke="#222" stroke-width="0.5" rx="0" />
<rect x="612.5" y="300" width="9.5" height="4" fill="#444" stroke="#222" stroke-width="0.4" rx="0" />
<rect x="606.2" y="537.5" width="6.5" height="138.5" fill="#f4f400" stroke="#0c2a70" stroke-width="1.1" rx="0" />
<polygon points="612.5,539 624,539 624,551 639,553.5 639,655 624,670 624,676 612.5,676" fill="#6a6a6a" stroke="#222" stroke-width="0.7" />
<polygon points="616.2,558.7 623.7,558.7 631.2,567.5 631.2,652.5 623.7,660 616.2,660" fill="#f0f0f0" stroke="#222" stroke-width="0.7" />
<line x1="617.3" y1="560" x2="617.3" y2="659" stroke="#999" stroke-width="0.5" />
<rect x="606.2" y="533" width="18.8" height="7" fill="#3a3a3a" stroke="#111" stroke-width="0.5" rx="0" />
<rect x="615.5" y="541" width="9.0" height="7" fill="#444" stroke="#222" stroke-width="0.5" rx="0" />
<circle cx="617.5" cy="553.5" r="2.1" fill="#ddd" stroke="#111" stroke-width="0.8"/>
<line x1="619" y1="553" x2="637" y2="551" stroke="#222" stroke-width="1" />
<rect x="632.5" y="567.5" width="13.0" height="85.5" fill="#f4d4b8" stroke="#222" stroke-width="0.7" rx="3" />
<polygon points="616,664.5 620,664.5 620,668 616,669.5" fill="#eee" stroke="#222" stroke-width="0.5" />
<line x1="578" y1="229.5" x2="595.3" y2="208.8" stroke="#111" stroke-width="6.2" stroke-linecap="round"/>
<path d="M595.3,208.8 L600.3,201.8 L604.8,201.8" fill="none" stroke="#555" stroke-width="3.8" stroke-linejoin="round"/>
<path d="M595.3,208.8 L600.3,201.8 L604.8,201.8" fill="none" stroke="#f4f4f4" stroke-width="2.6" stroke-linejoin="round"/>
<line x1="578.5" y1="667.5" x2="596.5" y2="647" stroke="#111" stroke-width="6.2" stroke-linecap="round"/>
<path d="M596.5,647 L601.5,640 L606.0,640" fill="none" stroke="#555" stroke-width="3.8" stroke-linejoin="round"/>
<path d="M596.5,647 L601.5,640 L606.0,640" fill="none" stroke="#f4f4f4" stroke-width="2.6" stroke-linejoin="round"/>
<rect x="918.7" y="163" width="13.0" height="524" fill="#6a6a6a" stroke="#222" stroke-width="0.7" rx="0" />
<line x1="921.5" y1="163" x2="921.5" y2="687" stroke="#333" stroke-width="0.6" />
<line x1="930" y1="213" x2="930" y2="687" stroke="#333" stroke-width="0.7" />
<rect x="922" y="277" width="8" height="35" fill="#727272" stroke="#333" stroke-width="0.5" rx="0" />
<rect x="922" y="360" width="8" height="35" fill="#727272" stroke="#333" stroke-width="0.5" rx="0" />
<rect x="920.7" y="153.7" width="9.3" height="13.8" fill="#6e6e6e" stroke="#222" stroke-width="0.6" rx="0" />
<rect x="931.7" y="145" width="77.0" height="345" fill="#6e6e6e" stroke="#111" stroke-width="1.1" rx="0" />
<rect x="980.5" y="145" width="3.7" height="345" fill="#222" stroke="none" stroke-width="0" rx="0" />
<line x1="984" y1="163.7" x2="1008.7" y2="163.7" stroke="#111" stroke-width="1.4" />
<line x1="984" y1="167.5" x2="1008.7" y2="167.5" stroke="#111" stroke-width="0.8" />
<line x1="984" y1="179" x2="1008.7" y2="179" stroke="#111" stroke-width="1.2" />
<circle cx="962.7" cy="174.5" r="0.9" fill="none" stroke="#222" stroke-width="0.5"/>
<rect x="918.7" y="167.5" width="18.8" height="46.2" fill="#6e6e6e" stroke="#222" stroke-width="0.8" rx="0" />
<line x1="918.7" y1="171" x2="937.5" y2="171" stroke="#333" stroke-width="0.6" />
<line x1="918.7" y1="210" x2="937.5" y2="210" stroke="#333" stroke-width="0.6" />
<rect x="935" y="170" width="3.5" height="55" fill="#666" stroke="#222" stroke-width="0.5" rx="0" />
<rect x="938.5" y="191" width="7.5" height="13" fill="#777" stroke="#222" stroke-width="0.6" rx="0" />
<line x1="938.5" y1="197.5" x2="947.5" y2="197.5" stroke="#222" stroke-width="1" />
<path d="M966,312 L966,245 L980.5,231" fill="none" stroke="#222" stroke-width="0.8" />
<line x1="966" y1="261.3" x2="980.5" y2="261.3" stroke="#222" stroke-width="0.8" />
<line x1="944.5" y1="259.5" x2="944.5" y2="310" stroke="#222" stroke-width="1" />
<rect x="931.7" y="312.5" width="30.8" height="111.2" fill="#6e6e6e" stroke="#222" stroke-width="0.7" rx="0" />
<line x1="931.7" y1="367.5" x2="962.5" y2="367.5" stroke="#222" stroke-width="0.6" />
<path d="M942.5,312.5 L936,321 L955,338.7 L935,357.5 L955,376 L935,396 L955,415 L946,426" fill="none" stroke="#1a1a1a" stroke-width="1.4" />
<line x1="964" y1="312.5" x2="964" y2="440" stroke="#333" stroke-width="0.6" />
<rect x="966" y="312.5" width="14.5" height="69.0" fill="#6e6e6e" stroke="#222" stroke-width="0.7" rx="0" />
<line x1="966" y1="381.5" x2="980.5" y2="381.5" stroke="#111" stroke-width="1.2" />
<rect x="984.2" y="338" width="24.5" height="122" fill="#727272" stroke="#222" stroke-width="0.6" rx="0" />
<line x1="984.2" y1="339.5" x2="1008.7" y2="339.5" stroke="#111" stroke-width="1.4" />
<rect x="920" y="445" width="52.5" height="37.5" fill="#6e6e6e" stroke="#222" stroke-width="0.8" rx="0" />
<line x1="945.5" y1="445" x2="945.5" y2="482.5" stroke="#222" stroke-width="0.6" />
<rect x="972.5" y="460.5" width="67.5" height="5.2" fill="#777" stroke="#111" stroke-width="0.8" rx="1.5" />
<circle cx="1029.5" cy="463.5" r="1.5" fill="#111" stroke="none" stroke-width="0"/>
<line x1="984" y1="459.5" x2="1008.7" y2="459.5" stroke="#111" stroke-width="1.2" />
<rect x="966" y="482.5" width="18" height="7.5" fill="#555" stroke="#222" stroke-width="0.5" rx="0" />
<polygon points="974,490 1008.7,490 1008.7,650 993.5,666.5 983,666.5 983,650 974,650" fill="#f4f400" stroke="#222" stroke-width="0.7" />
<line x1="983" y1="657" x2="1000" y2="657" stroke="#888" stroke-width="0.5" />
<rect x="931.7" y="490" width="42.3" height="46" fill="#6a6a6a" stroke="#222" stroke-width="0.7" rx="0" />
<rect x="944.5" y="502.5" width="20.0" height="32.5" fill="#b8b8b8" stroke="#333" stroke-width="0.7" rx="2" />
<circle cx="954.5" cy="497.5" r="2.3" fill="#777" stroke="#222" stroke-width="0.6"/>
<polygon points="931,536 982.5,536 982.5,675.5 931,675.5" fill="#5c5c5c" stroke="#111" stroke-width="0.9" />
<polygon points="934,545.5 971.5,545.5 971.5,664 934,664" fill="#6e6e6e" stroke="#222" stroke-width="0.8" />
<line x1="931" y1="536" x2="934" y2="545.5" stroke="#222" stroke-width="0.6" />
<line x1="982.5" y1="536" x2="971.5" y2="545.5" stroke="#222" stroke-width="0.6" />
<line x1="982.5" y1="675.5" x2="971.5" y2="664" stroke="#222" stroke-width="0.6" />
<line x1="931" y1="675.5" x2="934" y2="664" stroke="#222" stroke-width="0.6" />
<path d="M934,549 L968,549 Q970,549 970,551 L970,664" fill="none" stroke="#333" stroke-width="0.6" />
<rect x="943.7" y="592" width="20.8" height="61" fill="#b8b8b8" stroke="#333" stroke-width="0.7" rx="2.5" />
<circle cx="954.3" cy="578" r="2.6" fill="#777" stroke="#222" stroke-width="0.7"/>
<circle cx="954.3" cy="658" r="2.6" fill="#777" stroke="#222" stroke-width="0.7"/>
<rect x="972" y="590" width="6" height="32" fill="#727272" stroke="#333" stroke-width="0.5" rx="0" />
<rect x="972" y="622" width="6" height="42" fill="#6a6a6a" stroke="#333" stroke-width="0.5" rx="0" />
<rect x="920.5" y="590" width="13.5" height="65" fill="#5c5c5c" stroke="#222" stroke-width="0.6" rx="0" />
<rect x="921" y="655" width="10" height="27" fill="#666" stroke="#222" stroke-width="0.5" rx="0" />
<rect x="982.5" y="665.5" width="10.0" height="8.0" fill="#666" stroke="#111" stroke-width="0.7" rx="0" />
<circle cx="987.5" cy="670" r="1.7" fill="#111" stroke="none" stroke-width="0"/>
<rect x="935.7" y="136" width="39.3" height="9" fill="#6e6e6e" stroke="#111" stroke-width="0.8" rx="1.5" />
<rect x="938.5" y="138.5" width="33.5" height="5.0" fill="#aaa" stroke="#222" stroke-width="0.5" rx="0" />
<rect x="944" y="140.5" width="22" height="2.0" fill="#444" stroke="none" stroke-width="0" rx="0" />
<path d="M950,137.5 L953,132 L957.5,133.5" fill="none" stroke="#444" stroke-width="0.9" />
<rect x="953" y="145" width="3" height="2.5" fill="#888" stroke="#222" stroke-width="0.4" rx="0" />
<rect x="1009.7" y="170.5" width="33.7" height="70.5" fill="#727272" stroke="#333" stroke-width="0.6" rx="0" />
<rect x="1041" y="170.5" width="2.6" height="70.5" fill="#555" stroke="none" stroke-width="0" rx="0" />
<rect x="1008.7" y="243" width="4.3" height="89" fill="#555" stroke="#222" stroke-width="0.5" rx="0" />
<rect x="1006" y="253" width="4" height="74" fill="#444" stroke="#222" stroke-width="0.4" rx="0" />
<polygon points="987.5,257.5 1006,257.5 1013,270 1013,310 1006,322.5 987.5,322.5" fill="#a8a8a8" stroke="#333" stroke-width="0.7" />
<path d="M990,259 Q993,281 1012,283" fill="none" stroke="#555" stroke-width="0.8" />
<path d="M990,321 Q993,299 1012,297" fill="none" stroke="#555" stroke-width="0.8" />
<path d="M987.5,274 L1006,283 M987.5,306 L1006,297" fill="none" stroke="#555" stroke-width="0.7" />
<rect x="1013" y="262" width="3" height="56" fill="#555" stroke="#222" stroke-width="0.4" rx="0" />
<rect x="1016" y="266" width="16.5" height="42" fill="#9a9a9a" stroke="#222" stroke-width="0.7" rx="0" />
<rect x="1022" y="268" width="8" height="4" fill="#777" stroke="#222" stroke-width="0.4" rx="0" />
<rect x="1022" y="302" width="8" height="4" fill="#777" stroke="#222" stroke-width="0.4" rx="0" />
<rect x="1000" y="285.3" width="27" height="3.3" fill="#ddd" stroke="#333" stroke-width="0.6" rx="0" />
<rect x="1032.5" y="271" width="53.5" height="34" fill="#b0b0b0" stroke="#111" stroke-width="0.9" rx="2" />
<path d="M1061,270.5 L1084,270.5 Q1086.5,270.5 1086.5,273 L1086.5,303 Q1086.5,305.5 1084,305.5" fill="none" stroke="#111" stroke-width="1.8" />
<line x1="1013" y1="255" x2="1018" y2="254" stroke="#222" stroke-width="0.7" />
<circle cx="1016" cy="254.5" r="1" fill="#ddd" stroke="#222" stroke-width="0.4"/>
<line x1="1013" y1="319" x2="1018" y2="318" stroke="#222" stroke-width="0.7" />
<circle cx="1016" cy="318.5" r="1" fill="#ddd" stroke="#222" stroke-width="0.4"/>
<line x1="870.7" y1="67.5" x2="870.7" y2="85" stroke="#111" stroke-width="0.8" />
<line x1="870.7" y1="67.5" x2="1043.7" y2="67.5" stroke="#111" stroke-width="0.8" />
<polygon points="870.7,67.5 885.7,64.9 885.7,70.1" fill="#111" stroke="none" stroke-width="0" />
<polygon points="1043.7,67.5 1028.7,64.9 1028.7,70.1" fill="#111" stroke="none" stroke-width="0" />
<text x="945.5" y="63.7" font-size="16.5" text-anchor="middle" font-family="Liberation Sans, Arial, sans-serif" font-weight="bold" fill="#111" >H</text>
<line x1="1043.7" y1="170.5" x2="1086" y2="170.5" stroke="#111" stroke-width="0.8" />
<line x1="1043.7" y1="241" x2="1086" y2="241" stroke="#111" stroke-width="0.8" />
<line x1="1083.7" y1="170.5" x2="1083.7" y2="241" stroke="#111" stroke-width="0.8" />
<polygon points="1083.7,170.5 1081.1000000000001,185.5 1086.3,185.5" fill="#111" stroke="none" stroke-width="0" />
<polygon points="1083.7,241 1081.1000000000001,226 1086.3,226" fill="#111" stroke="none" stroke-width="0" />
<g transform="translate(1079.5,206.5) rotate(-90)"><text x="0.8" y="0.5" font-size="17" font-family="Liberation Sans, Arial, sans-serif" font-weight="bold" fill="#111">E</text><circle cx="-6.5" cy="-5.5" r="4.2" fill="none" stroke="#111" stroke-width="0.9"/><line x1="-10.5" y1="0.5" x2="-2.5" y2="-12" stroke="#111" stroke-width="0.9"/></g>
<line x1="587" y1="666" x2="587" y2="755" stroke="#111" stroke-width="0.8" />
<line x1="587" y1="751.7" x2="1043.7" y2="751.7" stroke="#111" stroke-width="0.8" />
<polygon points="587,751.7 602,749.1 602,754.3000000000001" fill="#111" stroke="none" stroke-width="0" />
<polygon points="1043.7,751.7 1028.7,749.1 1028.7,754.3000000000001" fill="#111" stroke="none" stroke-width="0" />
<text x="793" y="748.5" font-size="16.5" text-anchor="middle" font-family="Liberation Sans, Arial, sans-serif" font-weight="bold" fill="#111" >C</text>
<text x="678.0" y="59.3" font-size="17" text-anchor="middle" font-family="Liberation Sans, Arial, sans-serif" font-weight="bold" fill="#111" >6 7 18 19 20 24 28</text>
<line x1="605" y1="63" x2="751" y2="63" stroke="#111" stroke-width="0.9" />
<line x1="605" y1="63" x2="666" y2="105" stroke="#111" stroke-width="0.9" />
<circle cx="666" cy="105" r="1.9" fill="#111" stroke="none" stroke-width="0"/>
<text x="790.1" y="59.3" font-size="17" text-anchor="middle" font-family="Liberation Sans, Arial, sans-serif" font-weight="bold" fill="#111" >21</text>
<line x1="780.7" y1="63" x2="799.5" y2="63" stroke="#111" stroke-width="0.9" />
<line x1="780.7" y1="63" x2="721.5" y2="121" stroke="#111" stroke-width="0.9" />
<circle cx="721.5" cy="121" r="1.9" fill="#111" stroke="none" stroke-width="0"/>
<text x="825.25" y="59.3" font-size="17" text-anchor="middle" font-family="Liberation Sans, Arial, sans-serif" font-weight="bold" fill="#111" >32</text>
<line x1="815.5" y1="63" x2="835" y2="63" stroke="#111" stroke-width="0.9" />
<line x1="815.5" y1="63" x2="736" y2="126" stroke="#111" stroke-width="0.9" />
<circle cx="736" cy="126" r="1.9" fill="#111" stroke="none" stroke-width="0"/>
<text x="979.35" y="92.6" font-size="17" text-anchor="middle" font-family="Liberation Sans, Arial, sans-serif" font-weight="bold" fill="#111" >29 30</text>
<line x1="957.7" y1="95.8" x2="1001" y2="95.8" stroke="#111" stroke-width="0.9" />
<line x1="957.7" y1="95.8" x2="870.7" y2="146" stroke="#111" stroke-width="0.9" />
<circle cx="870.7" cy="146" r="1.9" fill="#111" stroke="none" stroke-width="0"/>
<text x="971.75" y="117.6" font-size="17" text-anchor="middle" font-family="Liberation Sans, Arial, sans-serif" font-weight="bold" fill="#111" >27</text>
<line x1="962.5" y1="121" x2="981" y2="121" stroke="#111" stroke-width="0.9" />
<line x1="962.5" y1="121" x2="947.5" y2="139.5" stroke="#111" stroke-width="0.9" />
<circle cx="947.5" cy="139.5" r="1.9" fill="#111" stroke="none" stroke-width="0"/>
<text x="1094.5" y="106.2" font-size="17" text-anchor="middle" font-family="Liberation Sans, Arial, sans-serif" font-weight="bold" fill="#111" >13</text>
<line x1="1085" y1="109.2" x2="1104" y2="109.2" stroke="#111" stroke-width="0.9" />
<line x1="1085" y1="109.2" x2="936" y2="175.5" stroke="#111" stroke-width="0.9" />
<circle cx="936" cy="175.5" r="1.9" fill="#111" stroke="none" stroke-width="0"/>
<text x="553.0" y="148.2" font-size="17" text-anchor="middle" font-family="Liberation Sans, Arial, sans-serif" font-weight="bold" fill="#111" >26</text>
<line x1="543.5" y1="151.8" x2="562.5" y2="151.8" stroke="#111" stroke-width="0.9" />
<line x1="562.5" y1="151.8" x2="618.5" y2="175.2" stroke="#111" stroke-width="0.9" />
<circle cx="618.5" cy="175.2" r="1.9" fill="#111" stroke="none" stroke-width="0"/>
<text x="553.0" y="198.8" font-size="17" text-anchor="middle" font-family="Liberation Sans, Arial, sans-serif" font-weight="bold" fill="#111" >22</text>
<line x1="543.5" y1="202.5" x2="562.5" y2="202.5" stroke="#111" stroke-width="0.9" />
<line x1="562.5" y1="202.5" x2="590" y2="213.7" stroke="#111" stroke-width="0.9" />
<text x="553.0" y="254" font-size="17" text-anchor="middle" font-family="Liberation Sans, Arial, sans-serif" font-weight="bold" fill="#111" >25</text>
<line x1="543.5" y1="258" x2="562.5" y2="258" stroke="#111" stroke-width="0.9" />
<line x1="562.5" y1="258" x2="629" y2="219" stroke="#111" stroke-width="0.9" />
<circle cx="629" cy="219" r="1.9" fill="#111" stroke="none" stroke-width="0"/>
<text x="553.35" y="285.2" font-size="17" text-anchor="middle" font-family="Liberation Sans, Arial, sans-serif" font-weight="bold" fill="#111" >2</text>
<line x1="548" y1="289.2" x2="558.7" y2="289.2" stroke="#111" stroke-width="0.9" />
<line x1="558.7" y1="289.2" x2="620" y2="274" stroke="#111" stroke-width="0.9" />
<circle cx="620" cy="274" r="1.9" fill="#111" stroke="none" stroke-width="0"/>
<text x="553.0" y="327.7" font-size="17" text-anchor="middle" font-family="Liberation Sans, Arial, sans-serif" font-weight="bold" fill="#111" >14</text>
<line x1="543.5" y1="331.2" x2="562.5" y2="331.2" stroke="#111" stroke-width="0.9" />
<line x1="562.5" y1="331.2" x2="643.7" y2="288.7" stroke="#111" stroke-width="0.9" />
<circle cx="643.7" cy="288.7" r="1.9" fill="#111" stroke="none" stroke-width="0"/>
<text x="553.0" y="364" font-size="17" text-anchor="middle" font-family="Liberation Sans, Arial, sans-serif" font-weight="bold" fill="#111" >12</text>
<line x1="543.5" y1="367.7" x2="562.5" y2="367.7" stroke="#111" stroke-width="0.9" />
<line x1="562.5" y1="367.7" x2="680" y2="309" stroke="#111" stroke-width="0.9" />
<circle cx="680" cy="309" r="1.9" fill="#111" stroke="none" stroke-width="0"/>
<text x="553.0" y="436.3" font-size="17" text-anchor="middle" font-family="Liberation Sans, Arial, sans-serif" font-weight="bold" fill="#111" >36</text>
<line x1="543.5" y1="440" x2="562.5" y2="440" stroke="#111" stroke-width="0.9" />
<line x1="562.5" y1="440" x2="597.5" y2="460.7" stroke="#111" stroke-width="0.9" />
<circle cx="597.5" cy="460.7" r="1.9" fill="#111" stroke="none" stroke-width="0"/>
<text x="545.75" y="469" font-size="17" text-anchor="middle" font-family="Liberation Sans, Arial, sans-serif" font-weight="bold" fill="#111" >8</text>
<line x1="540.5" y1="473" x2="551" y2="473" stroke="#111" stroke-width="0.9" />
<line x1="551" y1="473" x2="656" y2="464" stroke="#111" stroke-width="0.9" />
<circle cx="656" cy="464" r="1.9" fill="#111" stroke="none" stroke-width="0"/>
<text x="553.0" y="499" font-size="17" text-anchor="middle" font-family="Liberation Sans, Arial, sans-serif" font-weight="bold" fill="#111" >26</text>
<line x1="543.5" y1="502.7" x2="562.5" y2="502.7" stroke="#111" stroke-width="0.9" />
<line x1="562.5" y1="502.7" x2="617.5" y2="553.5" stroke="#111" stroke-width="0.9" />
<circle cx="617.5" cy="553.5" r="1.9" fill="#111" stroke="none" stroke-width="0"/>
<text x="553.0" y="529.3" font-size="17" text-anchor="middle" font-family="Liberation Sans, Arial, sans-serif" font-weight="bold" fill="#111" >11</text>
<line x1="543.5" y1="533" x2="562.5" y2="533" stroke="#111" stroke-width="0.9" />
<line x1="562.5" y1="533" x2="638.7" y2="597" stroke="#111" stroke-width="0.9" />
<circle cx="638.7" cy="597" r="1.9" fill="#111" stroke="none" stroke-width="0"/>
<text x="553.0" y="561" font-size="17" text-anchor="middle" font-family="Liberation Sans, Arial, sans-serif" font-weight="bold" fill="#111" >15</text>
<line x1="543.5" y1="564.7" x2="562.5" y2="564.7" stroke="#111" stroke-width="0.9" />
<line x1="562.5" y1="564.7" x2="595" y2="583" stroke="#111" stroke-width="0.9" />
<circle cx="595" cy="583" r="1.9" fill="#111" stroke="none" stroke-width="0"/>
<text x="553.0" y="592.3" font-size="17" text-anchor="middle" font-family="Liberation Sans, Arial, sans-serif" font-weight="bold" fill="#111" >25</text>
<line x1="543.5" y1="595.8" x2="562.5" y2="595.8" stroke="#111" stroke-width="0.9" />
<line x1="562.5" y1="595.8" x2="623.7" y2="617.5" stroke="#111" stroke-width="0.9" />
<circle cx="623.7" cy="617.5" r="1.9" fill="#111" stroke="none" stroke-width="0"/>
<text x="553.35" y="622.8" font-size="17" text-anchor="middle" font-family="Liberation Sans, Arial, sans-serif" font-weight="bold" fill="#111" >3</text>
<line x1="548" y1="626.8" x2="558.7" y2="626.8" stroke="#111" stroke-width="0.9" />
<line x1="558.7" y1="626.8" x2="615" y2="636" stroke="#111" stroke-width="0.9" />
<circle cx="615" cy="636" r="1.9" fill="#111" stroke="none" stroke-width="0"/>
<text x="553.0" y="654" font-size="17" text-anchor="middle" font-family="Liberation Sans, Arial, sans-serif" font-weight="bold" fill="#111" >22</text>
<line x1="543.5" y1="657.7" x2="562.5" y2="657.7" stroke="#111" stroke-width="0.9" />
<line x1="562.5" y1="657.7" x2="580" y2="661" stroke="#111" stroke-width="0.9" />
<text x="553.0" y="702.3" font-size="17" text-anchor="middle" font-family="Liberation Sans, Arial, sans-serif" font-weight="bold" fill="#111" >10</text>
<line x1="543.5" y1="706" x2="562.5" y2="706" stroke="#111" stroke-width="0.9" />
<path d="M562.5,706 L617,668 L667,637.7" fill="none" stroke="#111" stroke-width="0.9" />
<circle cx="667" cy="637.7" r="1.5" fill="#111" stroke="none" stroke-width="0"/>
<text x="1094.35" y="349" font-size="17" text-anchor="middle" font-family="Liberation Sans, Arial, sans-serif" font-weight="bold" fill="#111" >4</text>
<line x1="1088.7" y1="352.7" x2="1100" y2="352.7" stroke="#111" stroke-width="0.9" />
<line x1="1088.7" y1="352.7" x2="1053.7" y2="287" stroke="#111" stroke-width="0.9" />
<circle cx="1053.7" cy="287" r="1.9" fill="#111" stroke="none" stroke-width="0"/>
<text x="1093.7" y="382.7" font-size="17" text-anchor="middle" font-family="Liberation Sans, Arial, sans-serif" font-weight="bold" fill="#111" >1</text>
<line x1="1088.7" y1="386.2" x2="1098.7" y2="386.2" stroke="#111" stroke-width="0.9" />
<line x1="1088.7" y1="386.2" x2="975.5" y2="348.7" stroke="#111" stroke-width="0.9" />
<circle cx="975.5" cy="348.7" r="1.9" fill="#111" stroke="none" stroke-width="0"/>
<text x="1093.7" y="416.2" font-size="17" text-anchor="middle" font-family="Liberation Sans, Arial, sans-serif" font-weight="bold" fill="#111" >33</text>
<line x1="1083.7" y1="419.2" x2="1103.7" y2="419.2" stroke="#111" stroke-width="0.9" />
<line x1="1083.7" y1="419.2" x2="948" y2="368.7" stroke="#111" stroke-width="0.9" />
<circle cx="948" cy="368.7" r="1.9" fill="#111" stroke="none" stroke-width="0"/>
<text x="1093.7" y="452.7" font-size="17" text-anchor="middle" font-family="Liberation Sans, Arial, sans-serif" font-weight="bold" fill="#111" >36</text>
<line x1="1083.7" y1="455.8" x2="1103.7" y2="455.8" stroke="#111" stroke-width="0.9" />
<line x1="1083.7" y1="455.8" x2="1029.5" y2="463.7" stroke="#111" stroke-width="0.9" />
<text x="1093.7" y="485.7" font-size="17" text-anchor="middle" font-family="Liberation Sans, Arial, sans-serif" font-weight="bold" fill="#111" >5</text>
<line x1="1088.7" y1="489.2" x2="1098.7" y2="489.2" stroke="#111" stroke-width="0.9" />
<line x1="1088.7" y1="489.2" x2="874.5" y2="460.7" stroke="#111" stroke-width="0.9" />
<circle cx="874.5" cy="460.7" r="1.9" fill="#111" stroke="none" stroke-width="0"/>
<text x="1094.0" y="557.2" font-size="17" text-anchor="middle" font-family="Liberation Sans, Arial, sans-serif" font-weight="bold" fill="#111" >9</text>
<line x1="1083.7" y1="560.8" x2="1099" y2="560.8" stroke="#111" stroke-width="0.9" />
<line x1="1083.7" y1="560.8" x2="897" y2="555.5" stroke="#111" stroke-width="0.9" />
<circle cx="897" cy="555.5" r="1.9" fill="#111" stroke="none" stroke-width="0"/>
<text x="1093.7" y="665.2" font-size="17" text-anchor="middle" font-family="Liberation Sans, Arial, sans-serif" font-weight="bold" fill="#111" >16</text>
<line x1="1083.7" y1="668.6" x2="1103.7" y2="668.6" stroke="#111" stroke-width="0.9" />
<line x1="1083.7" y1="668.6" x2="954" y2="636" stroke="#111" stroke-width="0.9" />
<circle cx="954" cy="636" r="1.9" fill="#111" stroke="none" stroke-width="0"/>
<text x="1093.7" y="703" font-size="17" text-anchor="middle" font-family="Liberation Sans, Arial, sans-serif" font-weight="bold" fill="#111" >23</text>
<line x1="1083.7" y1="706.8" x2="1103.7" y2="706.8" stroke="#111" stroke-width="0.9" />
<line x1="1083.7" y1="706.8" x2="987.5" y2="670.5" stroke="#111" stroke-width="0.9" />
<circle cx="987.5" cy="670.5" r="1.9" fill="#111" stroke="none" stroke-width="0"/>
</g>
<g id="right-view">
<rect x="1343" y="84" width="7.7" height="15" fill="#444" stroke="#111" stroke-width="0.5" rx="0" />
<rect x="1342.3" y="82.5" width="9.1" height="6.5" fill="#111" stroke="none" stroke-width="0" rx="1.5" />
<rect x="1387.5" y="90" width="11.5" height="9.5" fill="#777" stroke="#333" stroke-width="0.5" rx="0" />
<rect x="1447" y="82.5" width="9" height="3.5" fill="#111" stroke="none" stroke-width="0" rx="1.5" />
<rect x="1238" y="99" width="161" height="9.8" fill="#060e1a" stroke="#000" stroke-width="0.4" rx="0" />
<rect x="1238" y="108.8" width="161" height="13.7" fill="#3aacfc" stroke="#0a4a90" stroke-width="0.6" rx="0" />
<rect x="1223" y="122.5" width="8.3" height="463.5" fill="#f4f400" stroke="#222" stroke-width="0.7" rx="0" />
<rect x="1231.3" y="122.5" width="6.4" height="463.5" fill="#3aacfc" stroke="#0a4a90" stroke-width="0.5" rx="0" />
<rect x="1237.7" y="122.5" width="161.3" height="565.0" fill="#696969" stroke="#222" stroke-width="0.6" rx="0" />
<rect x="1237.7" y="122.5" width="161.3" height="11.5" fill="#3aacfc" stroke="#0a4a90" stroke-width="0.5" rx="0" />
<line x1="1237.7" y1="125" x2="1399" y2="125" stroke="#0a4a90" stroke-width="0.5" />
<rect x="1255" y="128.5" width="51" height="1.8" fill="#ccc" stroke="#333" stroke-width="0.4" rx="0" />
<rect x="1276" y="127.5" width="29" height="2.0" fill="#444" stroke="none" stroke-width="0" rx="1" />
<rect x="1256" y="133.7" width="143" height="8.9" fill="#f4f400" stroke="#222" stroke-width="0.6" rx="0" />
<rect x="1270" y="142.6" width="45" height="9.2" fill="#3aacfc" stroke="#0a4a90" stroke-width="0.4" rx="1.5" />
<rect x="1262.5" y="142.6" width="7.5" height="6.4" fill="#4a4a4a" stroke="none" stroke-width="0" rx="0" />
<rect x="1237.7" y="134" width="18.3" height="15" fill="#3aacfc" stroke="none" stroke-width="0" rx="0" />
<path d="M1237.7,125 L1237.7,149 L1262,149" fill="none" stroke="#333" stroke-width="0.9" />
<rect x="1244.5" y="132.5" width="11.5" height="14.0" fill="#e8e8e8" stroke="#333" stroke-width="0.6" rx="1.5" />
<rect x="1243.5" y="146.5" width="13.5" height="2.0" fill="#999" stroke="#333" stroke-width="0.4" rx="0" />
<polygon points="1250.5,148.5 1253.5,148.5 1252,156" fill="#ccc" stroke="#333" stroke-width="0.4" />
<rect x="1251" y="137" width="3.5" height="6" fill="#555" stroke="none" stroke-width="0" rx="0" />
<rect x="1343" y="122.5" width="7.2" height="11.5" fill="#555" stroke="#222" stroke-width="0.5" rx="0" />
<rect x="1387.6" y="126.4" width="11.4" height="7.6" fill="#666" stroke="#333" stroke-width="0.4" rx="0" />
<polygon points="1351,134 1354.5,128 1361,134" fill="#444" stroke="#222" stroke-width="0.4" />
<line x1="1328.2" y1="142.8" x2="1328.2" y2="173.5" stroke="#222" stroke-width="0.9" />
<line x1="1328.2" y1="142.8" x2="1399" y2="142.8" stroke="#222" stroke-width="0.8" />
<path d="M1328.2,173.5 L1330.7,167.4 L1336.4,179.7" fill="none" stroke="#222" stroke-width="0.9" />
<rect x="1321" y="153.5" width="6.7" height="13.5" fill="#5a5a5a" stroke="#222" stroke-width="0.6" rx="0" />
<rect x="1321" y="162.5" width="6.7" height="4.5" fill="#333" stroke="none" stroke-width="0" rx="0" />
<path d="M1335.5,149.4 L1358,149.4" fill="none" stroke="#222" stroke-width="7" stroke-linecap="round"/>
<path d="M1335.5,149.4 L1358,149.4" fill="none" stroke="#505050" stroke-width="5.6" stroke-linecap="round"/>
<path d="M1346.8,143 L1346.8,159" fill="none" stroke="#222" stroke-width="6.8" stroke-linecap="round"/>
<path d="M1346.8,143 L1346.8,159" fill="none" stroke="#585858" stroke-width="5.4" stroke-linecap="round"/>
<ellipse cx="1336.5" cy="149.4" rx="2" ry="2.6" fill="#333"/><ellipse cx="1346.8" cy="149.4" rx="2.2" ry="2.6" fill="#3a3a3a"/>
<path d="M1356,151 L1376,153" fill="none" stroke="#4c4c4c" stroke-width="5.5" />
<path d="M1361.5,143.5 L1378,156" fill="none" stroke="#222" stroke-width="7.4" />
<path d="M1361.5,143.5 L1378,156" fill="none" stroke="#555" stroke-width="6" />
<path d="M1374,143.5 Q1386,150 1399,150" fill="none" stroke="#1c1c1c" stroke-width="6.5" />
<path d="M1380,155.5 L1399,155.5" fill="none" stroke="#222" stroke-width="5.6" />
<path d="M1380,155.5 L1399,155.5" fill="none" stroke="#5a5a5a" stroke-width="4.4" />
<path d="M1379,155 L1383.5,166 L1384.5,160" fill="none" stroke="#333" stroke-width="0.8" />
<path d="M1399,158.5 A146.5,146.5 0 0 0 1252.5,305 A146.5,146.5 0 0 0 1358,445.6" fill="none" stroke="#222" stroke-width="0.9" />
<path d="M1399,164 A141,141 0 0 0 1258,305 A141,141 0 0 0 1335,430.6" fill="none" stroke="#222" stroke-width="0.8" />
<path d="M1399,161 A144,144 0 0 0 1255,305 A144,144 0 0 0 1330,431.5" fill="none" stroke="#858585" stroke-width="0.5" />
<path d="M1399,170.8 A23.7,23.7 0 0 0 1399,218.2" fill="none" stroke="#222" stroke-width="0.8" />
<path d="M1399,172.3 A22.2,22.2 0 0 0 1399,216.7" fill="none" stroke="#888" stroke-width="0.5" />
<path d="M1399,180.2 A14.3,14.3 0 0 0 1399,208.8" fill="none" stroke="#222" stroke-width="0.8" />
<polygon points="1229.5,269.5 1241,269.5 1241,350 1267.5,412.5 1267.5,464.5 1229.5,464.5" fill="#e2e6fc" stroke="#555" stroke-width="0.6" />
<rect x="1227.5" y="270" width="3.5" height="193" fill="#ccc" stroke="#444" stroke-width="0.4" rx="0" />
<line x1="1229.3" y1="270" x2="1229.3" y2="463" stroke="#444" stroke-width="0.4" />
<path d="M1263,281.5 L1273,284.5 Q1275,285 1275,287 L1275,328 Q1275,330 1273,330.5 L1263,333.5" fill="none" stroke="#eee" stroke-width="1.0" />
<rect x="1233.7" y="306.2" width="11.3" height="1.6" fill="#333" stroke="none" stroke-width="0" rx="0" />
<rect x="1245.5" y="303.5" width="2.0" height="7.0" fill="#333" stroke="#111" stroke-width="0.3" rx="0" />
<rect x="1261" y="304.2" width="12" height="5.6" fill="#333" stroke="#111" stroke-width="0.4" rx="1" />
<rect x="1274" y="304.8" width="2.5" height="4.4" fill="#ddd" stroke="#333" stroke-width="0.4" rx="0" />
<line x1="1247.5" y1="307" x2="1261" y2="307" stroke="#222" stroke-width="0.7" />
<path d="M1274,400 L1279,418 L1279,469 L1243,505 L1243,663 L1309.7,663 L1334,645" fill="none" stroke="#222" stroke-width="0.8" />
<path d="M1276.5,400 L1281,417 L1281,470 L1246,506" fill="none" stroke="#444" stroke-width="0.5" />
<path d="M1283,430 L1311.5,420 M1280,424 L1283,431.5" fill="none" stroke="#333" stroke-width="0.7" />
<path d="M1249.5,513 A26.7,26.7 0 0 1 1301.8,519.7 L1301.8,631 A26.7,26.7 0 0 1 1296,647.5" fill="none" stroke="#222" stroke-width="0.7" />
<path d="M1243,508 L1250,508 L1250,534 L1243,534" fill="none" stroke="#333" stroke-width="0.6" />
<path d="M1243,617 L1250,617 L1250,640" fill="none" stroke="#333" stroke-width="0.5" />
<circle cx="1275.2" cy="519.5" r="23.2" fill="none" stroke="#222" stroke-width="0.8"/>
<circle cx="1275.2" cy="519.5" r="21.4" fill="none" stroke="#222" stroke-width="0.7"/>
<circle cx="1275.2" cy="576" r="23.2" fill="none" stroke="#222" stroke-width="0.8"/>
<circle cx="1275.2" cy="576" r="21.4" fill="none" stroke="#222" stroke-width="0.7"/>
<g transform="translate(1275.2,576)">
<ellipse cx="-6" cy="-10.5" rx="5.6" ry="9.6" transform="rotate(-18 -6 -10.5)" fill="#e6eafc" stroke="#777" stroke-width="0.4"/>
<ellipse cx="6.5" cy="-10.5" rx="5.6" ry="9.6" transform="rotate(18 6.5 -10.5)" fill="#e6eafc" stroke="#777" stroke-width="0.4"/>
<ellipse cx="-6" cy="10.5" rx="5.6" ry="9.6" transform="rotate(18 -6 10.5)" fill="#e6eafc" stroke="#777" stroke-width="0.4"/>
<ellipse cx="6.5" cy="10.5" rx="5.6" ry="9.6" transform="rotate(-18 6.5 10.5)" fill="#e6eafc" stroke="#777" stroke-width="0.4"/>
<path d="M-5,-6 L0.5,-2 L6,-6 L5,5 L0.5,2 L-5,5 Z" fill="#e6eafc"/>
<path d="M-2,-6 Q0.5,-3 3.5,0 Q0.5,3 -2,6" fill="none" stroke="#888" stroke-width="0.4" />
<circle cx="2" cy="-0.5" r="1.5" fill="#fff" stroke="#444" stroke-width="0.5"/>
</g>
<circle cx="1275.2" cy="631" r="23.2" fill="none" stroke="#222" stroke-width="0.8"/>
<circle cx="1275.2" cy="631" r="21.4" fill="none" stroke="#222" stroke-width="0.7"/>
<g transform="translate(1275.2,631)">
<ellipse cx="-6" cy="-10.5" rx="5.6" ry="9.6" transform="rotate(-18 -6 -10.5)" fill="#e6eafc" stroke="#777" stroke-width="0.4"/>
<ellipse cx="6.5" cy="-10.5" rx="5.6" ry="9.6" transform="rotate(18 6.5 -10.5)" fill="#e6eafc" stroke="#777" stroke-width="0.4"/>
<ellipse cx="-6" cy="10.5" rx="5.6" ry="9.6" transform="rotate(18 -6 10.5)" fill="#e6eafc" stroke="#777" stroke-width="0.4"/>
<ellipse cx="6.5" cy="10.5" rx="5.6" ry="9.6" transform="rotate(-18 6.5 10.5)" fill="#e6eafc" stroke="#777" stroke-width="0.4"/>
<path d="M-5,-6 L0.5,-2 L6,-6 L5,5 L0.5,2 L-5,5 Z" fill="#e6eafc"/>
<path d="M-2,-6 Q0.5,-3 3.5,0 Q0.5,3 -2,6" fill="none" stroke="#888" stroke-width="0.4" />
<circle cx="2" cy="-0.5" r="1.5" fill="#fff" stroke="#444" stroke-width="0.5"/>
</g>
<path d="M1242.6,551.7 Q1246,566 1250.8,574.8 Q1247,588 1242.6,600.4 Z" fill="#0c0c0c" stroke="none" stroke-width="0" />
<path d="M1250.6,663 Q1275,646 1299.3,663 Z" fill="#0c0c0c" stroke="none" stroke-width="0" />
<path d="M1256,663 Q1275,651.5 1294,663" fill="none" stroke="#666" stroke-width="0.6" />
<path d="M1357,443.5 L1357,474 Q1357,481.5 1365,481.5 L1399,481.5" fill="none" stroke="#222" stroke-width="0.9" />
<path d="M1359.5,445 L1359.5,473 Q1359.5,479 1366,479 L1399,479" fill="none" stroke="#555" stroke-width="0.5" />
<path d="M1351,439.5 L1357.5,443.5" fill="none" stroke="#222" stroke-width="0.9" />
<path d="M1358,481 Q1322,505 1318.6,545 L1318.6,602 Q1322,640 1346,656 Q1368,670.5 1399,672" fill="none" stroke="#222" stroke-width="0.8" />
<path d="M1360,484 Q1325,507 1321,545" fill="none" stroke="#555" stroke-width="0.4" />
<path d="M1322,533 L1331.8,540.5 Q1333,543 1333.4,545 Q1333.5,565 1339.2,577 L1321,583.7 Z" fill="#c8ae98" stroke="#6a5a4a" stroke-width="0.5" />
<path d="M1321,583.7 L1339.2,577 Q1343,579.5 1346,579.5 L1399,579.5 L1399,605.8 L1324,605.8 Q1321.5,595 1321,583.7 Z" fill="#d4bea8" stroke="#6a5a4a" stroke-width="0.5" />
<path d="M1342,578 L1399,578 L1399,587.3 L1362,587.3 Q1349,587 1342,578 Z" fill="#c6ae98" stroke="#6a5a4a" stroke-width="0.5" />
<path d="M1321.9,606.8 L1338,606.8 Q1338.5,614 1340.3,620.6 Q1345,632 1353,639 Q1362,647 1373.7,652.9 Q1385,657 1399,658.6 L1399,669 Q1383,668 1369,664.4 Q1356,660 1346,652.9 Q1336,644 1330,632 Q1324,620 1321.9,606.8 Z" fill="#c8ae98" stroke="#6a5a4a" stroke-width="0.5" />
<path d="M1350.7,606.8 L1399,606.8 L1399,632 Q1382,631 1369,625 Q1357,618 1350.7,606.8 Z" fill="#b49e8c" stroke="#5a4a3a" stroke-width="0.5" />
<path d="M1367,620 Q1372,645 1399,654" fill="none" stroke="#444" stroke-width="0.5" />
<path d="M1363.5,669.5 Q1380,675.5 1399,676.5" fill="none" stroke="#333" stroke-width="0.7" />
<path d="M1365,672 Q1380,678 1399,679" fill="none" stroke="#333" stroke-width="0.6" />
<path d="M1322,645 L1329,639.5 L1331,642" fill="none" stroke="#333" stroke-width="0.6" />
<polygon points="1365,443.5 1384,443.5 1391.5,447.5 1399,447.5 1399,477 1379,477 1376.5,455 1365,452.5" fill="#fce0c8" stroke="#555" stroke-width="0.5" />
<polygon points="1391.5,447.5 1399,447.5 1399,477 1393,477" fill="#e8cbb2" stroke="none" stroke-width="0" />
<rect x="1361.3" y="443.5" width="4.0" height="4.0" fill="#fff" stroke="#444" stroke-width="0.4" rx="0" />
<rect x="1371" y="479" width="5" height="2.5" fill="#999" stroke="#333" stroke-width="0.3" rx="0" />
<rect x="1380" y="479" width="8" height="2.5" fill="#999" stroke="#333" stroke-width="0.3" rx="0" />
<rect x="1391" y="479" width="6" height="2.5" fill="#999" stroke="#333" stroke-width="0.3" rx="0" />
<rect x="1236.8" y="687.3" width="323.2" height="33.2" fill="#696969" stroke="#222" stroke-width="0.7" rx="0" />
<line x1="1238" y1="702.5" x2="1560" y2="702.5" stroke="#333" stroke-width="0.8" />
<rect x="1238" y="704.3" width="322" height="3.3" fill="#3e3e3e" stroke="none" stroke-width="0" rx="0" />
<line x1="1238" y1="687.3" x2="1256" y2="687.3" stroke="#222" stroke-width="1" />
<rect x="1399" y="86.3" width="160.5" height="35.7" fill="#1466d8" stroke="#0a2a70" stroke-width="0.7" rx="0" />
<rect x="1399" y="90" width="27" height="28.7" fill="#9a9a9a" stroke="#333" stroke-width="0.6" rx="0" />
<rect x="1402" y="93.5" width="21" height="21.5" fill="none" stroke="#999" stroke-width="0.5" rx="0" />
<rect x="1429.3" y="90" width="79.7" height="28.7" fill="#9a9a9a" stroke="#333" stroke-width="0.6" rx="0" />
<rect x="1432" y="96.5" width="74.5" height="15.8" fill="#9a9a9a" stroke="#333" stroke-width="0.6" rx="0" />
<ellipse cx="1469" cy="103.8" rx="8.2" ry="5.6" fill="#0a0a0a"/>
<circle cx="1434" cy="104.5" r="0.8" fill="#222" stroke="none" stroke-width="0"/>
<circle cx="1504.5" cy="104.5" r="0.8" fill="#222" stroke="none" stroke-width="0"/>
<text x="1466" y="117.6" font-size="4.6" text-anchor="middle" font-family="Liberation Sans, Arial, sans-serif" font-weight="bold" font-style="italic" fill="#555" letter-spacing="0.6">ATMOS</text>
<rect x="1512.3" y="90" width="42.5" height="28.7" fill="#9a9a9a" stroke="#333" stroke-width="0.6" rx="0" />
<rect x="1522" y="91.3" width="17" height="13.3" fill="#2a2a2a" stroke="#111" stroke-width="0.5" rx="0" />
<line x1="1554.8" y1="90" x2="1554.8" y2="118.7" stroke="#333" stroke-width="0.5" />
<rect x="1559.5" y="122.5" width="16.5" height="462.5" fill="#3aacfc" stroke="#0a4a90" stroke-width="0.7" rx="0" />
<rect x="1399" y="122.5" width="160.5" height="45.3" fill="#5ad2ff" stroke="#2a5a80" stroke-width="0.6" rx="0" />
<rect x="1399" y="167.8" width="160.5" height="3.2" fill="#5e5e5e" stroke="none" stroke-width="0" rx="0" />
<rect x="1458.5" y="134" width="7.5" height="2" fill="#eee" stroke="#444" stroke-width="0.4" rx="1" />
<rect x="1466" y="133.6" width="21" height="2.8" fill="#151515" stroke="none" stroke-width="0" rx="1.2" />
<rect x="1475" y="132.6" width="2.2" height="4.8" fill="#151515" stroke="none" stroke-width="0" rx="0" />
<rect x="1399" y="171" width="161" height="516.5" fill="#696969" stroke="none" stroke-width="0" rx="0" />
<rect x="1399" y="171" width="67.5" height="136.5" fill="#3aacfc" stroke="#0a3a80" stroke-width="0.7" rx="0" />
<rect x="1466.5" y="171" width="2.0" height="136.5" fill="#111" stroke="none" stroke-width="0" rx="0" />
<rect x="1468.5" y="171" width="20.0" height="137.7" fill="#666" stroke="#222" stroke-width="0.6" rx="0" />
<circle cx="1484" cy="309.5" r="0.9" fill="none" stroke="#222" stroke-width="0.4"/>
<rect x="1399" y="313" width="91" height="106.5" fill="#5ad2ff" stroke="#2a5a80" stroke-width="0.6" rx="0" />
<rect x="1399" y="419.5" width="91" height="7.5" fill="#3aacfc" stroke="none" stroke-width="0" rx="0" />
<line x1="1399" y1="419.5" x2="1490" y2="419.5" stroke="#3a90d0" stroke-width="0.5" stroke-dasharray="1.5,1"/>
<rect x="1399" y="427" width="91" height="20.5" fill="#c0c0c0" stroke="#666" stroke-width="0.4" rx="0" />
<rect x="1400" y="428.7" width="61.7" height="17.0" fill="#c6c6c6" stroke="#666" stroke-width="0.6" rx="1.5" />
<text x="1439" y="440.7" font-size="6.6" text-anchor="middle" font-family="Liberation Sans, Arial, sans-serif" fill="#333">Dřevoplyn</text>
<text x="1399" y="443.5" font-size="14" font-family="Liberation Serif, serif" fill="none" stroke="#999" stroke-width="0.5">S</text>
<rect x="1399" y="447.5" width="91" height="41.2" fill="#3aacfc" stroke="none" stroke-width="0" rx="0" />
<circle cx="1400.5" cy="464" r="4.2" fill="#555" stroke="#333" stroke-width="0.5"/>
<circle cx="1400.5" cy="464" r="2.2" fill="#222" stroke="none" stroke-width="0"/>
<rect x="1399" y="447.5" width="1" height="41.2" fill="#3aacfc" stroke="none" stroke-width="0" rx="0" />
<rect x="1399" y="488.7" width="91" height="46.5" fill="#0a78e0" stroke="#0a4a90" stroke-width="0.4" rx="0" />
<line x1="1399" y1="491" x2="1490" y2="491" stroke="#0a60c0" stroke-width="0.4" stroke-dasharray="1.5,1"/>
<rect x="1401.9" y="498.7" width="2.2" height="24.0" fill="#8a8a8a" stroke="#333" stroke-width="0.5" rx="1.1" />
<rect x="1409.7" y="498.7" width="2.2" height="24.0" fill="#8a8a8a" stroke="#333" stroke-width="0.5" rx="1.1" />
<rect x="1417.5" y="498.7" width="2.2" height="24.0" fill="#8a8a8a" stroke="#333" stroke-width="0.5" rx="1.1" />
<rect x="1425.2" y="498.7" width="2.2" height="24.0" fill="#8a8a8a" stroke="#333" stroke-width="0.5" rx="1.1" />
<rect x="1432.9" y="498.7" width="2.2" height="24.0" fill="#8a8a8a" stroke="#333" stroke-width="0.5" rx="1.1" />
<rect x="1399" y="535.2" width="50" height="4.8" fill="#666" stroke="#333" stroke-width="0.5" rx="0" />
<rect x="1449" y="536.5" width="21" height="3.5" fill="#666" stroke="#333" stroke-width="0.4" rx="0" />
<rect x="1470" y="536" width="20" height="4.5" fill="#3aacfc" stroke="none" stroke-width="0" rx="0" />
<rect x="1399" y="540.5" width="67.5" height="136.5" fill="#3aacfc" stroke="#0a3a80" stroke-width="0.7" rx="0" />
<rect x="1466.5" y="540.5" width="2.0" height="136.5" fill="#111" stroke="none" stroke-width="0" rx="0" />
<rect x="1468.5" y="540.5" width="20.0" height="137.0" fill="#666" stroke="#222" stroke-width="0.6" rx="0" />
<circle cx="1484" cy="678.5" r="0.9" fill="none" stroke="#222" stroke-width="0.4"/>
<rect x="1490" y="171" width="3.7" height="369" fill="#5e5e5e" stroke="#222" stroke-width="0.4" rx="0" />
<rect x="1493.7" y="171" width="66.3" height="311" fill="#3aacfc" stroke="#0a3a80" stroke-width="0.6" rx="0" />
<rect x="1498.7" y="171" width="57.3" height="311" fill="#3aacfc" stroke="#0a3a80" stroke-width="0.7" rx="0" />
<line x1="1495.5" y1="171" x2="1495.5" y2="482" stroke="#0a3a80" stroke-width="0.5" />
<rect x="1497" y="485" width="61" height="183" fill="#3aacfc" stroke="#0a3a80" stroke-width="0.8" rx="0" />
<line x1="1494" y1="485" x2="1494" y2="650" stroke="#222" stroke-width="0.6" />
<circle cx="1528" cy="199.5" r="1.1" fill="#aaa" stroke="#333" stroke-width="0.5"/>
<circle cx="1528" cy="455" r="1.1" fill="#aaa" stroke="#333" stroke-width="0.5"/>
<circle cx="1528" cy="505.7" r="1.1" fill="#aaa" stroke="#333" stroke-width="0.5"/>
<circle cx="1528" cy="647.5" r="1.1" fill="#aaa" stroke="#333" stroke-width="0.5"/>
<circle cx="1528" cy="548.5" r="4.6" fill="#1a1a1a" stroke="#000" stroke-width="0.4"/>
<circle cx="1528" cy="548.5" r="2.6" fill="none" stroke="#555" stroke-width="0.5"/>
<circle cx="1528" cy="605" r="4.6" fill="#1a1a1a" stroke="#000" stroke-width="0.4"/>
<circle cx="1528" cy="605" r="2.6" fill="none" stroke="#555" stroke-width="0.5"/>
<line x1="1399" y1="85.7" x2="1399" y2="720.5" stroke="#222" stroke-width="0.7" />
<defs><linearGradient id="kg" x1="0" y1="0" x2="1" y2="0"><stop offset="0" stop-color="#8088a8"/><stop offset="0.35" stop-color="#f4f4fc"/><stop offset="0.7" stop-color="#c4c8dc"/><stop offset="1" stop-color="#7c84a0"/></linearGradient></defs>
<rect x="1204.5" y="414.5" width="18.0" height="31.0" fill="url(#kg)" stroke="#222" stroke-width="0.6"/>
<rect x="1203" y="412.5" width="3.5" height="35.0" fill="#222" stroke="#000" stroke-width="0.3" rx="0" />
<rect x="1577" y="414.5" width="17" height="31.0" fill="url(#kg)" stroke="#222" stroke-width="0.6"/>
<rect x="1593" y="412.5" width="3.5" height="35.0" fill="#222" stroke="#000" stroke-width="0.3" rx="0" />
<rect x="1197" y="420" width="6" height="17" fill="#ccc" stroke="#333" stroke-width="0.5" rx="2" />
<circle cx="1199.5" cy="424" r="1.2" fill="#fff" stroke="#333" stroke-width="0.4"/>
<circle cx="1199.5" cy="433" r="1.2" fill="#fff" stroke="#333" stroke-width="0.4"/>
<rect x="1596.5" y="420" width="6.0" height="17" fill="#ccc" stroke="#333" stroke-width="0.5" rx="2" />
<circle cx="1600" cy="424" r="1.2" fill="#fff" stroke="#333" stroke-width="0.4"/>
<circle cx="1600" cy="433" r="1.2" fill="#fff" stroke="#333" stroke-width="0.4"/>
<rect x="1224" y="418.2" width="5" height="1.6" fill="#ddd" stroke="#333" stroke-width="0.3" rx="0" />
<rect x="1224" y="429.2" width="5" height="1.6" fill="#ddd" stroke="#333" stroke-width="0.3" rx="0" />
<rect x="1224" y="442.2" width="5" height="1.6" fill="#ddd" stroke="#333" stroke-width="0.3" rx="0" />
<rect x="1228" y="652" width="5.5" height="16.7" fill="#111" stroke="#000" stroke-width="0.3" rx="2.2" />
<rect x="1233.5" y="657" width="3.5" height="7" fill="#222" stroke="none" stroke-width="0" rx="0" />
<rect x="1566" y="652" width="5.5" height="16.7" fill="#111" stroke="#000" stroke-width="0.3" rx="2.2" />
<rect x="1561" y="657" width="5" height="7" fill="#222" stroke="none" stroke-width="0" rx="0" />
<rect x="1229" y="586" width="3" height="2.5" fill="#111" stroke="none" stroke-width="0" rx="0" />
<rect x="1565.5" y="585" width="3.5" height="3" fill="#111" stroke="none" stroke-width="0" rx="0" />
<path d="M1234.5,590 L1237,603" fill="none" stroke="#ddd" stroke-width="1.2" />
<path d="M1562.5,590 L1560.5,603" fill="none" stroke="#ddd" stroke-width="1.2" />
<text x="1600.0" y="117.6" font-size="17" text-anchor="middle" font-family="Liberation Sans, Arial, sans-serif" font-weight="bold" fill="#111" >17</text>
<line x1="1590.5" y1="120.6" x2="1609.5" y2="120.6" stroke="#111" stroke-width="0.9" />
<line x1="1590.5" y1="120.6" x2="1487" y2="134.5" stroke="#111" stroke-width="0.9" />
<text x="1169.25" y="395.2" font-size="17" text-anchor="middle" font-family="Liberation Sans, Arial, sans-serif" font-weight="bold" fill="#111" >34</text>
<line x1="1159.5" y1="398.2" x2="1179" y2="398.2" stroke="#111" stroke-width="0.9" />
<line x1="1179" y1="398.2" x2="1213" y2="437.5" stroke="#111" stroke-width="0.9" />
<circle cx="1213" cy="437.5" r="1.9" fill="#111" stroke="none" stroke-width="0"/>
<text x="1169.25" y="524" font-size="17" text-anchor="middle" font-family="Liberation Sans, Arial, sans-serif" font-weight="bold" fill="#111" >35</text>
<line x1="1159.5" y1="527.6" x2="1179" y2="527.6" stroke="#111" stroke-width="0.9" />
<line x1="1179" y1="527.6" x2="1267.5" y2="577.5" stroke="#111" stroke-width="0.9" />
<circle cx="1267.5" cy="577.5" r="1.9" fill="#111" stroke="none" stroke-width="0"/>
</g>
</svg>
</body></html>
